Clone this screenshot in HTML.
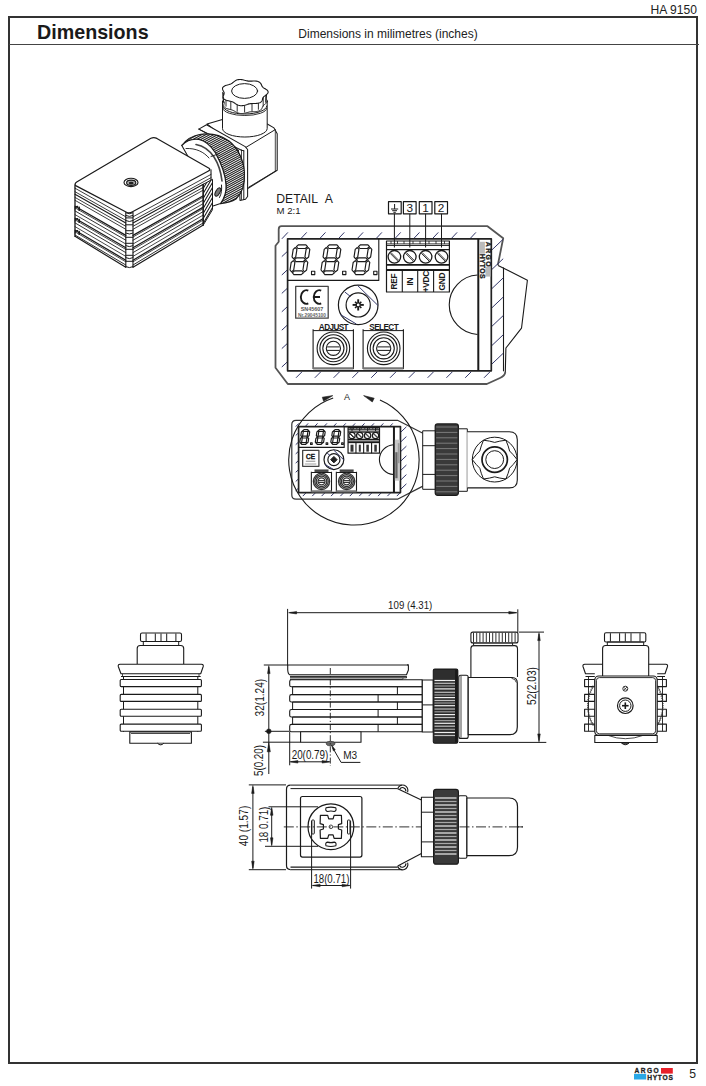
<!DOCTYPE html>
<html><head><meta charset="utf-8">
<style>
html,body{margin:0;padding:0;background:#fff;}
body{width:706px;height:1086px;position:relative;overflow:hidden;font-family:"Liberation Sans",sans-serif;color:#222;}
.abs{position:absolute;white-space:nowrap;}
svg text{font-family:"Liberation Sans",sans-serif;}
</style></head>
<body>
<div class="abs" style="left:650.5px;top:3.8px;font-size:12.1px;line-height:13px;">HA 9150</div>
<div style="position:absolute;left:8px;top:16px;width:686px;height:1044px;border:2px solid #333;"></div>
<div style="position:absolute;left:9px;top:44px;width:690px;height:1px;background:#444;"></div>
<div class="abs" style="left:37px;top:20.5px;font-size:19.7px;font-weight:bold;line-height:22px;color:#1a1a1a;">Dimensions</div>
<div class="abs" style="left:298.3px;top:26.7px;font-size:12px;line-height:14px;">Dimensions in milimetres (inches)</div>
<svg style="position:absolute;left:0;top:0" width="706" height="1086" viewBox="0 0 706 1086" fill="none" stroke="#222" stroke-width="1" stroke-linejoin="round">
<defs><pattern id="knurl" width="6" height="2.1" patternUnits="userSpaceOnUse" patternTransform="rotate(-28)"><rect width="6" height="2.1" fill="#fff"/><rect width="6" height="0.5" fill="#222"/></pattern></defs>
<g id="iso" stroke-linecap="round">
<path d="M207.0,124.0 L222.4,119.5 L266.4,123.5 L274.0,127.9 L277.2,133.7 L277.2,170.2 L247.3,188.7 L241.0,199.0 L239.5,150.0 Z" fill="#fff" stroke="#1a1a1a" stroke-width="1.05"/>
<line x1="246.2" y1="147.2" x2="275.3" y2="129.6" stroke="#1a1a1a" stroke-width="1.0"/>
<line x1="275.3" y1="131.5" x2="275.3" y2="171.2" stroke="#1a1a1a" stroke-width="0.8"/>
<line x1="249.0" y1="187.0" x2="275.3" y2="171.2" stroke="#1a1a1a" stroke-width="0.8"/>
<path d="M222.5,101 L222.5,128.5 A22.3,8.5 0 0 0 267.2,128.5 L267.2,101" fill="#fff" stroke="#1a1a1a" stroke-width="1"/>
<path d="M222.8,106 A22,8 0 0 0 266.8,106" fill="none" stroke="#1a1a1a" stroke-width="1"/>
<path d="M223,108.5 A21.8,7 0 0 0 266.6,108.5" fill="none" stroke="#1a1a1a" stroke-width="0.9"/>
<path d="M267.3,101.5 L267.1,102.0 L266.8,102.5 L266.4,103.0 L265.8,103.5 L265.3,104.0 L264.7,104.4 L264.2,104.8 L263.7,105.2 L263.3,105.6 L262.9,106.1 L262.7,106.5 L262.5,107.0 L262.3,107.5 L262.1,108.0 L261.8,108.6 L261.5,109.1 L261.1,109.6 L260.6,110.1 L260.0,110.5 L259.2,110.8 L258.4,111.1 L257.5,111.3 L256.5,111.5 L255.5,111.6 L254.5,111.7 L253.5,111.7 L252.5,111.7 L251.6,111.8 L250.7,111.8 L249.8,111.9 L249.0,112.1 L248.2,112.3 L247.3,112.5 L246.4,112.7 L245.5,113.0 L244.6,113.2 L243.6,113.4 L242.6,113.5 L241.6,113.5 L240.6,113.5 L239.7,113.4 L238.8,113.2 L237.9,112.9 L237.1,112.6 L236.3,112.2 L235.6,111.8 L235.0,111.4 L234.3,111.0 L233.7,110.7 L233.0,110.4 L232.3,110.1 L231.5,109.8 L230.7,109.6 L229.8,109.4 L228.9,109.2 L228.0,108.9 L227.1,108.7 L226.3,108.4 L225.5,108.0 L224.9,107.6 L224.4,107.1 L224.0,106.6 L223.8,106.1 L223.7,105.6 L223.8,105.0 L223.9,104.5 L224.0,103.9 L224.2,103.4 L224.3,102.9 L224.4,102.4 L224.4,102.0 L224.3,101.5 L224.2,101.0 L224.0,100.5 L223.7,100.0 L223.5,99.5 L223.3,99.0 L223.2,98.4 L223.2,97.9 L223.3,97.3 L223.5,96.8 L224.0,96.4 L224.5,95.9 L225.2,95.5 L226.0,95.2 L226.8,94.9 L227.7,94.6 L228.6,94.3 L229.4,94.1 L230.2,93.8 L230.9,93.5 L231.6,93.2 L232.2,92.9 L232.8,92.5 L233.4,92.1 L234.0,91.7 L234.6,91.2 L235.3,90.8 L236.1,90.5 L236.9,90.1 L237.8,89.9 L238.7,89.7 L239.7,89.6 L240.7,89.6 L241.7,89.7 L242.7,89.8 L243.7,90.0 L244.6,90.2 L245.5,90.4 L246.4,90.6 L247.2,90.7 L248.1,90.9 L249.0,90.9 L249.9,91.0 L250.8,91.0 L251.8,90.9 L252.8,90.9 L253.8,90.9 L254.8,91.0 L255.8,91.1 L256.8,91.3 L257.7,91.5 L258.5,91.8 L259.2,92.2 L259.7,92.7 L260.2,93.1 L260.6,93.6 L260.9,94.2 L261.2,94.7 L261.5,95.2 L261.8,95.6 L262.1,96.1 L262.5,96.5 L263.0,96.9 L263.5,97.3 L264.1,97.7 L264.8,98.1 L265.4,98.5 L266.0,99.0 L266.5,99.4 L267.0,99.9 L267.2,100.4 L267.4,101.0 L267.3,101.5 Z" fill="#fff" stroke="#1a1a1a" stroke-width="1"/>
<rect x="223" y="92.5" width="43.5" height="9" fill="#fff" stroke="none"/>
<line x1="222.7" y1="92.5" x2="223.5" y2="101.5" stroke="#1a1a1a" stroke-width="1"/>
<line x1="266.7" y1="92.5" x2="266.0" y2="101.5" stroke="#1a1a1a" stroke-width="1"/>
<line x1="223.4" y1="93.5" x2="223.4" y2="102.5" stroke="#1a1a1a" stroke-width="0.9"/>
<line x1="226.0" y1="97.2" x2="226.0" y2="106.2" stroke="#1a1a1a" stroke-width="0.9"/>
<line x1="230.8" y1="100.3" x2="230.8" y2="109.3" stroke="#1a1a1a" stroke-width="0.9"/>
<line x1="237.2" y1="102.3" x2="237.2" y2="111.3" stroke="#1a1a1a" stroke-width="0.9"/>
<line x1="244.6" y1="103.0" x2="244.6" y2="112.0" stroke="#1a1a1a" stroke-width="0.9"/>
<line x1="252.0" y1="102.3" x2="252.0" y2="111.3" stroke="#1a1a1a" stroke-width="0.9"/>
<line x1="258.4" y1="100.3" x2="258.4" y2="109.3" stroke="#1a1a1a" stroke-width="0.9"/>
<line x1="263.2" y1="97.2" x2="263.2" y2="106.2" stroke="#1a1a1a" stroke-width="0.9"/>
<line x1="265.8" y1="93.5" x2="265.8" y2="102.5" stroke="#1a1a1a" stroke-width="0.9"/>
<path d="M268.1,92.5 L267.8,93.1 L267.5,93.6 L266.9,94.2 L266.3,94.7 L265.7,95.2 L265.1,95.6 L264.5,96.1 L263.9,96.5 L263.5,97.0 L263.2,97.4 L262.9,97.9 L262.7,98.5 L262.6,99.0 L262.4,99.6 L262.3,100.2 L262.0,100.8 L261.6,101.4 L261.1,101.9 L260.5,102.4 L259.7,102.7 L258.8,103.0 L257.9,103.3 L256.8,103.4 L255.8,103.5 L254.7,103.5 L253.7,103.5 L252.6,103.5 L251.7,103.6 L250.8,103.6 L249.9,103.7 L249.0,103.9 L248.2,104.1 L247.4,104.4 L246.5,104.7 L245.6,105.0 L244.6,105.3 L243.6,105.5 L242.6,105.6 L241.5,105.7 L240.5,105.7 L239.5,105.5 L238.6,105.3 L237.7,105.0 L236.9,104.6 L236.1,104.1 L235.4,103.7 L234.8,103.2 L234.2,102.8 L233.5,102.4 L232.9,102.0 L232.1,101.7 L231.3,101.5 L230.5,101.3 L229.6,101.1 L228.6,100.8 L227.6,100.6 L226.6,100.3 L225.7,100.0 L224.9,99.6 L224.2,99.2 L223.7,98.7 L223.4,98.1 L223.2,97.5 L223.1,96.9 L223.2,96.3 L223.4,95.7 L223.6,95.1 L223.9,94.6 L224.0,94.0 L224.1,93.5 L224.2,93.0 L224.1,92.5 L223.9,92.0 L223.6,91.5 L223.3,90.9 L223.0,90.3 L222.7,89.7 L222.6,89.1 L222.5,88.5 L222.6,87.9 L222.9,87.4 L223.3,86.9 L223.9,86.4 L224.6,86.0 L225.5,85.6 L226.4,85.3 L227.4,85.0 L228.3,84.7 L229.2,84.5 L230.0,84.2 L230.8,83.9 L231.4,83.6 L232.1,83.2 L232.6,82.8 L233.2,82.3 L233.8,81.8 L234.4,81.3 L235.1,80.9 L235.8,80.4 L236.6,80.1 L237.5,79.8 L238.5,79.6 L239.5,79.5 L240.6,79.5 L241.6,79.6 L242.6,79.8 L243.6,80.0 L244.6,80.3 L245.5,80.5 L246.4,80.7 L247.3,80.9 L248.2,81.1 L249.0,81.1 L250.0,81.1 L250.9,81.1 L251.9,81.1 L253.0,81.0 L254.0,81.0 L255.1,81.0 L256.2,81.1 L257.2,81.3 L258.1,81.6 L258.9,81.9 L259.6,82.3 L260.2,82.8 L260.7,83.4 L261.0,83.9 L261.3,84.5 L261.5,85.1 L261.8,85.7 L262.0,86.2 L262.4,86.7 L262.8,87.1 L263.2,87.6 L263.8,88.0 L264.5,88.4 L265.2,88.8 L265.9,89.3 L266.6,89.7 L267.2,90.2 L267.7,90.8 L268.0,91.3 L268.1,91.9 L268.1,92.5 Z" fill="#fff" stroke="#1a1a1a" stroke-width="1.1"/>
<ellipse cx="244.6" cy="91" rx="13" ry="7.4" fill="#fff" stroke="#1a1a1a" stroke-width="1"/>
<path d="M198.8,129.1 L206.5,124.7 L245.2,146.6 L247.6,149.5 L247.6,196.5 L245.5,199.2 L240.0,200.5 L238.5,150.5 Z" fill="#fff" stroke="#1a1a1a" stroke-width="1.05"/>
<line x1="198.8" y1="129.1" x2="241.5" y2="150.2" stroke="#1a1a1a" stroke-width="1.05"/>
<line x1="241.5" y1="150.2" x2="243.8" y2="150.8" stroke="#1a1a1a" stroke-width="1.0"/>
<line x1="243.8" y1="150.8" x2="243.8" y2="199.6" stroke="#1a1a1a" stroke-width="1.0"/>
<line x1="241.5" y1="150.2" x2="241.5" y2="199.5" stroke="#1a1a1a" stroke-width="0.8"/>
<clipPath id="bclip"><path d="M181.8,145.5 C186,139.5 193,135.5 201,134.2 C210,133 220,134.5 229,141 C238,148 243.5,160 244.4,172 C245,182 243.5,192 236,199 C232,201.5 226,203 220.5,203.6 C224.5,198 226.5,192 226,185 C225.5,175 222,165 215.5,153 C211,146 206,141 199,139.5 C192,138.5 186,141 181.8,145.5 Z"/></clipPath>
<path d="M181.8,145.5 C186,139.5 193,135.5 201,134.2 C210,133 220,134.5 229,141 C238,148 243.5,160 244.4,172 C245,182 243.5,192 236,199 C232,201.5 226,203 220.5,203.6 C224.5,198 226.5,192 226,185 C225.5,175 222,165 215.5,153 C211,146 206,141 199,139.5 C192,138.5 186,141 181.8,145.5 Z" fill="#fff" stroke="none"/>
<g clip-path="url(#bclip)">
<line x1="123.07" y1="129.68" x2="228.63" y2="72.61" stroke="#222" stroke-width="1.1"/>
<line x1="123.98" y1="131.36" x2="229.54" y2="74.28" stroke="#222" stroke-width="1.1"/>
<line x1="124.88" y1="133.03" x2="230.44" y2="75.95" stroke="#222" stroke-width="1.1"/>
<line x1="125.78" y1="134.70" x2="231.34" y2="77.62" stroke="#222" stroke-width="1.1"/>
<line x1="126.69" y1="136.37" x2="232.25" y2="79.29" stroke="#222" stroke-width="1.1"/>
<line x1="127.59" y1="138.04" x2="233.15" y2="80.97" stroke="#222" stroke-width="1.1"/>
<line x1="128.50" y1="139.71" x2="234.05" y2="82.64" stroke="#222" stroke-width="1.1"/>
<line x1="129.40" y1="141.38" x2="234.96" y2="84.31" stroke="#222" stroke-width="1.1"/>
<line x1="130.30" y1="143.05" x2="235.86" y2="85.98" stroke="#222" stroke-width="1.1"/>
<line x1="131.21" y1="144.73" x2="236.76" y2="87.65" stroke="#222" stroke-width="1.1"/>
<line x1="132.11" y1="146.40" x2="237.67" y2="89.32" stroke="#222" stroke-width="1.1"/>
<line x1="133.01" y1="148.07" x2="238.57" y2="90.99" stroke="#222" stroke-width="1.1"/>
<line x1="133.92" y1="149.74" x2="239.48" y2="92.67" stroke="#222" stroke-width="1.1"/>
<line x1="134.82" y1="151.41" x2="240.38" y2="94.34" stroke="#222" stroke-width="1.1"/>
<line x1="135.73" y1="153.08" x2="241.28" y2="96.01" stroke="#222" stroke-width="1.1"/>
<line x1="136.63" y1="154.75" x2="242.19" y2="97.68" stroke="#222" stroke-width="1.1"/>
<line x1="137.53" y1="156.43" x2="243.09" y2="99.35" stroke="#222" stroke-width="1.1"/>
<line x1="138.44" y1="158.10" x2="243.99" y2="101.02" stroke="#222" stroke-width="1.1"/>
<line x1="139.34" y1="159.77" x2="244.90" y2="102.69" stroke="#222" stroke-width="1.1"/>
<line x1="140.24" y1="161.44" x2="245.80" y2="104.36" stroke="#222" stroke-width="1.1"/>
<line x1="141.15" y1="163.11" x2="246.71" y2="106.04" stroke="#222" stroke-width="1.1"/>
<line x1="142.05" y1="164.78" x2="247.61" y2="107.71" stroke="#222" stroke-width="1.1"/>
<line x1="142.95" y1="166.45" x2="248.51" y2="109.38" stroke="#222" stroke-width="1.1"/>
<line x1="143.86" y1="168.12" x2="249.42" y2="111.05" stroke="#222" stroke-width="1.1"/>
<line x1="144.76" y1="169.80" x2="250.32" y2="112.72" stroke="#222" stroke-width="1.1"/>
<line x1="145.67" y1="171.47" x2="251.22" y2="114.39" stroke="#222" stroke-width="1.1"/>
<line x1="146.57" y1="173.14" x2="252.13" y2="116.06" stroke="#222" stroke-width="1.1"/>
<line x1="147.47" y1="174.81" x2="253.03" y2="117.74" stroke="#222" stroke-width="1.1"/>
<line x1="148.38" y1="176.48" x2="253.93" y2="119.41" stroke="#222" stroke-width="1.1"/>
<line x1="149.28" y1="178.15" x2="254.84" y2="121.08" stroke="#222" stroke-width="1.1"/>
<line x1="150.18" y1="179.82" x2="255.74" y2="122.75" stroke="#222" stroke-width="1.1"/>
<line x1="151.09" y1="181.50" x2="256.65" y2="124.42" stroke="#222" stroke-width="1.1"/>
<line x1="151.99" y1="183.17" x2="257.55" y2="126.09" stroke="#222" stroke-width="1.1"/>
<line x1="152.90" y1="184.84" x2="258.45" y2="127.76" stroke="#222" stroke-width="1.1"/>
<line x1="153.80" y1="186.51" x2="259.36" y2="129.43" stroke="#222" stroke-width="1.1"/>
<line x1="154.70" y1="188.18" x2="260.26" y2="131.11" stroke="#222" stroke-width="1.1"/>
<line x1="155.61" y1="189.85" x2="261.16" y2="132.78" stroke="#222" stroke-width="1.1"/>
<line x1="156.51" y1="191.52" x2="262.07" y2="134.45" stroke="#222" stroke-width="1.1"/>
<line x1="157.41" y1="193.19" x2="262.97" y2="136.12" stroke="#222" stroke-width="1.1"/>
<line x1="158.32" y1="194.87" x2="263.88" y2="137.79" stroke="#222" stroke-width="1.1"/>
<line x1="159.22" y1="196.54" x2="264.78" y2="139.46" stroke="#222" stroke-width="1.1"/>
<line x1="160.12" y1="198.21" x2="265.68" y2="141.13" stroke="#222" stroke-width="1.1"/>
<line x1="161.03" y1="199.88" x2="266.59" y2="142.81" stroke="#222" stroke-width="1.1"/>
<line x1="161.93" y1="201.55" x2="267.49" y2="144.48" stroke="#222" stroke-width="1.1"/>
<line x1="162.84" y1="203.22" x2="268.39" y2="146.15" stroke="#222" stroke-width="1.1"/>
<line x1="163.74" y1="204.89" x2="269.30" y2="147.82" stroke="#222" stroke-width="1.1"/>
<line x1="164.64" y1="206.57" x2="270.20" y2="149.49" stroke="#222" stroke-width="1.1"/>
<line x1="165.55" y1="208.24" x2="271.10" y2="151.16" stroke="#222" stroke-width="1.1"/>
<line x1="166.45" y1="209.91" x2="272.01" y2="152.83" stroke="#222" stroke-width="1.1"/>
<line x1="167.35" y1="211.58" x2="272.91" y2="154.50" stroke="#222" stroke-width="1.1"/>
<line x1="168.26" y1="213.25" x2="273.82" y2="156.18" stroke="#222" stroke-width="1.1"/>
<line x1="169.16" y1="214.92" x2="274.72" y2="157.85" stroke="#222" stroke-width="1.1"/>
<line x1="170.07" y1="216.59" x2="275.62" y2="159.52" stroke="#222" stroke-width="1.1"/>
<line x1="170.97" y1="218.26" x2="276.53" y2="161.19" stroke="#222" stroke-width="1.1"/>
<line x1="171.87" y1="219.94" x2="277.43" y2="162.86" stroke="#222" stroke-width="1.1"/>
<line x1="172.78" y1="221.61" x2="278.33" y2="164.53" stroke="#222" stroke-width="1.1"/>
<line x1="173.68" y1="223.28" x2="279.24" y2="166.20" stroke="#222" stroke-width="1.1"/>
<line x1="174.58" y1="224.95" x2="280.14" y2="167.88" stroke="#222" stroke-width="1.1"/>
<line x1="175.49" y1="226.62" x2="281.05" y2="169.55" stroke="#222" stroke-width="1.1"/>
<line x1="176.39" y1="228.29" x2="281.95" y2="171.22" stroke="#222" stroke-width="1.1"/>
<line x1="177.29" y1="229.96" x2="282.85" y2="172.89" stroke="#222" stroke-width="1.1"/>
<line x1="178.20" y1="231.64" x2="283.76" y2="174.56" stroke="#222" stroke-width="1.1"/>
<line x1="179.10" y1="233.31" x2="284.66" y2="176.23" stroke="#222" stroke-width="1.1"/>
<line x1="180.01" y1="234.98" x2="285.56" y2="177.90" stroke="#222" stroke-width="1.1"/>
<line x1="180.91" y1="236.65" x2="286.47" y2="179.57" stroke="#222" stroke-width="1.1"/>
<line x1="181.81" y1="238.32" x2="287.37" y2="181.25" stroke="#222" stroke-width="1.1"/>
<line x1="182.72" y1="239.99" x2="288.27" y2="182.92" stroke="#222" stroke-width="1.1"/>
<line x1="183.62" y1="241.66" x2="289.18" y2="184.59" stroke="#222" stroke-width="1.1"/>
<line x1="184.52" y1="243.33" x2="290.08" y2="186.26" stroke="#222" stroke-width="1.1"/>
<line x1="185.43" y1="245.01" x2="290.99" y2="187.93" stroke="#222" stroke-width="1.1"/>
<line x1="186.33" y1="246.68" x2="291.89" y2="189.60" stroke="#222" stroke-width="1.1"/>
<line x1="187.24" y1="248.35" x2="292.79" y2="191.27" stroke="#222" stroke-width="1.1"/>
<line x1="188.14" y1="250.02" x2="293.70" y2="192.95" stroke="#222" stroke-width="1.1"/>
<line x1="189.04" y1="251.69" x2="294.60" y2="194.62" stroke="#222" stroke-width="1.1"/>
<line x1="189.95" y1="253.36" x2="295.50" y2="196.29" stroke="#222" stroke-width="1.1"/>
<line x1="190.85" y1="255.03" x2="296.41" y2="197.96" stroke="#222" stroke-width="1.1"/>
<line x1="191.75" y1="256.71" x2="297.31" y2="199.63" stroke="#222" stroke-width="1.1"/>
<line x1="192.66" y1="258.38" x2="298.22" y2="201.30" stroke="#222" stroke-width="1.1"/>
<line x1="193.56" y1="260.05" x2="299.12" y2="202.97" stroke="#222" stroke-width="1.1"/>
<line x1="194.46" y1="261.72" x2="300.02" y2="204.64" stroke="#222" stroke-width="1.1"/>
</g>
<path d="M181.8,145.5 C186,139.5 193,135.5 201,134.2 C210,133 220,134.5 229,141 C238,148 243.5,160 244.4,172 C245,182 243.5,192 236,199 C232,201.5 226,203 220.5,203.6 C224.5,198 226.5,192 226,185 C225.5,175 222,165 215.5,153 C211,146 206,141 199,139.5 C192,138.5 186,141 181.8,145.5 Z" fill="none" stroke="#1a1a1a" stroke-width="1.15"/>
<path d="M181.8,145.5 C186,141 192,138.5 199,139.5 C206,141 211,146 215.5,153 C222,165 225.5,175 226,185 C226.5,192 224.5,198 220.5,203.6 L213,206 L200,206 L190,160 Z" fill="#fff" stroke="#1a1a1a" stroke-width="1.1"/>
<path d="M196,144.5 C204,146 210,151 214,157 C218.5,164 221,172 222,181" stroke="#444" stroke-width="1.6"/>
<path d="M186,148.5 C196,148 204,152 209,158" stroke="#1a1a1a" stroke-width="0.9"/>
<path d="M221.5,185 C222,189 221.5,194 219.5,197.5" stroke="#1a1a1a" stroke-width="1"/>
<path d="M211,156.5 L219.5,153.5" stroke="#1a1a1a" stroke-width="0.9"/>
<ellipse cx="217.8" cy="192" rx="2.1" ry="4.6" fill="#777" stroke="#1a1a1a" stroke-width="1" transform="rotate(28 217.8 192)"/>
<path d="M74.2,183.6 L129.5,213.7 L211.0,169.7 L211.0,179.7 L203.3,183.9 L203.3,226.5 L129.5,266.3 L74.2,236.2 Z" fill="#fff" stroke="none"/>
<line x1="75.0" y1="236.3" x2="125.8" y2="267.3" stroke="#1a1a1a" stroke-width="1.2"/>
<line x1="133.0" y1="267.3" x2="203.3" y2="225.0" stroke="#1a1a1a" stroke-width="1.2"/>
<line x1="211.0" y1="169.7" x2="211.0" y2="179.7" stroke="#1a1a1a" stroke-width="1.1"/>
<line x1="211.0" y1="179.7" x2="203.3" y2="187.9" stroke="#1a1a1a" stroke-width="1.0"/>
<path d="M203.3,184.3 L212.5,179.3 L212.5,209.7 L203.3,225.0 Z" fill="#fff" stroke="#1a1a1a" stroke-width="1"/>
<clipPath id="hclip"><path d="M203.3,184.3 L212.5,179.3 L212.5,209.7 L203.3,225.0 Z"/></clipPath><g clip-path="url(#hclip)">
<line x1="203.3" y1="183.3" x2="212.5" y2="167.5" stroke="#1a1a1a" stroke-width="1.05"/>
<line x1="203.3" y1="188.3" x2="212.5" y2="172.5" stroke="#1a1a1a" stroke-width="1.05"/>
<line x1="203.3" y1="193.3" x2="212.5" y2="177.5" stroke="#1a1a1a" stroke-width="1.05"/>
<line x1="203.3" y1="198.3" x2="212.5" y2="182.5" stroke="#1a1a1a" stroke-width="1.05"/>
<line x1="203.3" y1="203.3" x2="212.5" y2="187.5" stroke="#1a1a1a" stroke-width="1.05"/>
<line x1="203.3" y1="208.3" x2="212.5" y2="192.5" stroke="#1a1a1a" stroke-width="1.05"/>
<line x1="203.3" y1="213.3" x2="212.5" y2="197.5" stroke="#1a1a1a" stroke-width="1.05"/>
<line x1="203.3" y1="218.3" x2="212.5" y2="202.5" stroke="#1a1a1a" stroke-width="1.05"/>
<line x1="203.3" y1="223.3" x2="212.5" y2="207.5" stroke="#1a1a1a" stroke-width="1.05"/>
</g>
<line x1="203.3" y1="184.3" x2="203.3" y2="225.0" stroke="#1a1a1a" stroke-width="1.3"/>
<line x1="75.0" y1="188.2" x2="125.8" y2="216.8" stroke="#1a1a1a" stroke-width="0.85"/>
<line x1="133.0" y1="216.8" x2="211.0" y2="174.4" stroke="#1a1a1a" stroke-width="0.85"/>
<line x1="75.0" y1="191.7" x2="125.8" y2="220.4" stroke="#1a1a1a" stroke-width="0.85"/>
<line x1="133.0" y1="220.4" x2="211.0" y2="177.7" stroke="#1a1a1a" stroke-width="0.85"/>
<line x1="75.0" y1="194.2" x2="125.8" y2="223.0" stroke="#1a1a1a" stroke-width="1.1"/>
<line x1="133.0" y1="223.0" x2="203.3" y2="184.3" stroke="#1a1a1a" stroke-width="1.1"/>
<line x1="75.0" y1="197.4" x2="125.8" y2="226.3" stroke="#1a1a1a" stroke-width="0.85"/>
<line x1="133.0" y1="226.3" x2="203.3" y2="187.3" stroke="#1a1a1a" stroke-width="0.85"/>
<line x1="75.0" y1="200.3" x2="125.8" y2="229.3" stroke="#1a1a1a" stroke-width="0.85"/>
<line x1="133.0" y1="229.3" x2="203.3" y2="190.1" stroke="#1a1a1a" stroke-width="0.85"/>
<line x1="75.0" y1="206.2" x2="125.8" y2="235.4" stroke="#1a1a1a" stroke-width="1.3"/>
<line x1="133.0" y1="235.4" x2="203.3" y2="195.7" stroke="#1a1a1a" stroke-width="1.3"/>
<line x1="75.0" y1="207.8" x2="125.8" y2="237.0" stroke="#1a1a1a" stroke-width="0.8"/>
<line x1="133.0" y1="237.0" x2="203.3" y2="197.1" stroke="#1a1a1a" stroke-width="0.8"/>
<line x1="75.0" y1="210.9" x2="125.8" y2="240.2" stroke="#1a1a1a" stroke-width="0.9"/>
<line x1="133.0" y1="240.2" x2="203.3" y2="200.1" stroke="#1a1a1a" stroke-width="0.9"/>
<line x1="75.0" y1="214.6" x2="125.8" y2="244.0" stroke="#1a1a1a" stroke-width="0.8"/>
<line x1="133.0" y1="244.0" x2="203.3" y2="203.6" stroke="#1a1a1a" stroke-width="0.8"/>
<line x1="75.0" y1="218.3" x2="125.8" y2="247.8" stroke="#1a1a1a" stroke-width="1.3"/>
<line x1="133.0" y1="247.8" x2="203.3" y2="207.1" stroke="#1a1a1a" stroke-width="1.3"/>
<line x1="75.0" y1="219.8" x2="125.8" y2="249.4" stroke="#1a1a1a" stroke-width="0.8"/>
<line x1="133.0" y1="249.4" x2="203.3" y2="208.6" stroke="#1a1a1a" stroke-width="0.8"/>
<line x1="75.0" y1="222.9" x2="125.8" y2="252.6" stroke="#1a1a1a" stroke-width="0.9"/>
<line x1="133.0" y1="252.6" x2="203.3" y2="211.5" stroke="#1a1a1a" stroke-width="0.9"/>
<line x1="75.0" y1="226.6" x2="125.8" y2="256.4" stroke="#1a1a1a" stroke-width="0.8"/>
<line x1="133.0" y1="256.4" x2="203.3" y2="215.0" stroke="#1a1a1a" stroke-width="0.8"/>
<line x1="75.0" y1="230.3" x2="125.8" y2="260.2" stroke="#1a1a1a" stroke-width="1.3"/>
<line x1="133.0" y1="260.2" x2="203.3" y2="218.5" stroke="#1a1a1a" stroke-width="1.3"/>
<line x1="75.0" y1="231.8" x2="125.8" y2="261.8" stroke="#1a1a1a" stroke-width="0.8"/>
<line x1="133.0" y1="261.8" x2="203.3" y2="220.0" stroke="#1a1a1a" stroke-width="0.8"/>
<line x1="75.0" y1="235.0" x2="125.8" y2="265.0" stroke="#1a1a1a" stroke-width="0.9"/>
<line x1="133.0" y1="265.0" x2="203.3" y2="222.9" stroke="#1a1a1a" stroke-width="0.9"/>
<line x1="125.8" y1="212.9" x2="125.8" y2="266.9" stroke="#1a1a1a" stroke-width="1.1"/>
<line x1="133.0" y1="212.9" x2="133.0" y2="266.9" stroke="#1a1a1a" stroke-width="1.1"/>
<path d="M125.8,212.8 Q129.4,214.8 133,212.8" stroke="#1a1a1a" stroke-width="1.0"/>
<path d="M125.8,215.5 Q129.4,217.5 133,215.5" stroke="#1a1a1a" stroke-width="1.0"/>
<path d="M125.8,220.6 Q129.4,222.6 133,220.6" stroke="#1a1a1a" stroke-width="1.0"/>
<path d="M125.8,233.1 Q129.4,235.1 133,233.1" stroke="#1a1a1a" stroke-width="1.0"/>
<path d="M125.8,245.7 Q129.4,247.7 133,245.7" stroke="#1a1a1a" stroke-width="1.0"/>
<path d="M125.8,257.7 Q129.4,259.7 133,257.7" stroke="#1a1a1a" stroke-width="1.0"/>
<path d="M125.8,266.7 Q129.4,268.7 133,266.7" stroke="#1a1a1a" stroke-width="1.0"/>
<line x1="125.8" y1="217.9" x2="133.0" y2="217.9" stroke="#1a1a1a" stroke-width="1.0"/>
<line x1="125.8" y1="224.8" x2="133.0" y2="224.8" stroke="#1a1a1a" stroke-width="1.0"/>
<line x1="125.8" y1="230.7" x2="133.0" y2="230.7" stroke="#1a1a1a" stroke-width="1.0"/>
<line x1="125.8" y1="237.3" x2="133.0" y2="237.3" stroke="#1a1a1a" stroke-width="1.0"/>
<line x1="125.8" y1="243.3" x2="133.0" y2="243.3" stroke="#1a1a1a" stroke-width="1.0"/>
<line x1="125.8" y1="249.3" x2="133.0" y2="249.3" stroke="#1a1a1a" stroke-width="1.0"/>
<line x1="125.8" y1="255.3" x2="133.0" y2="255.3" stroke="#1a1a1a" stroke-width="1.0"/>
<line x1="125.8" y1="261.3" x2="133.0" y2="261.3" stroke="#1a1a1a" stroke-width="1.0"/>
<line x1="75.0" y1="184.9" x2="75.0" y2="236.3" stroke="#1a1a1a" stroke-width="1.3"/>
<path d="M75.0,209.2 Q75.0,206.2 77.7,206.4" stroke="#1a1a1a" stroke-width="1.1"/>
<line x1="79.2" y1="207.4" x2="79.2" y2="210.2" stroke="#1a1a1a" stroke-width="1.6"/>
<path d="M75.0,221.3 Q75.0,218.3 77.7,218.5" stroke="#1a1a1a" stroke-width="1.1"/>
<line x1="79.2" y1="219.5" x2="79.2" y2="222.3" stroke="#1a1a1a" stroke-width="1.6"/>
<path d="M75.0,233.3 Q75.0,230.3 77.7,230.5" stroke="#1a1a1a" stroke-width="1.1"/>
<line x1="79.2" y1="231.5" x2="79.2" y2="234.3" stroke="#1a1a1a" stroke-width="1.6"/>
<path d="M132.5,211.7 L208.0,171.3 Q211.0,169.7 209.0,168.2 L156.9,138.4 Q153.9,137.0 150.9,138.2 L76.7,182.1 Q74.2,183.6 75.7,185.6 L126.5,212.2 Q129.5,213.7 132.5,211.7 Z" fill="#fff" stroke="#1a1a1a" stroke-width="1.2"/>
<ellipse cx="131" cy="182.4" rx="7" ry="4.2" fill="#fff" stroke="#1a1a1a" stroke-width="1.1"/>
<ellipse cx="131.2" cy="182.8" rx="4.6" ry="2.7" fill="#aaa" stroke="#1a1a1a" stroke-width="1.1"/>
<ellipse cx="131.2" cy="183.2" rx="2.4" ry="1.4" fill="#222" stroke="none"/>
</g>
<g id="detail">
<text x="0" y="0" font-size="12.20" font-weight="normal" fill="#1a1a1a" stroke="none" text-anchor="start" transform="translate(276.20,202.90) rotate(0)" >DETAIL&#160;&#160;A</text>
<text x="0" y="0" font-size="9.60" font-weight="normal" fill="#1a1a1a" stroke="none" text-anchor="start" transform="translate(276.60,213.90) rotate(0)" >M 2:1</text>
<path d="M281.5,226.2 L487.5,226.2 L503.2,238.3 L497.8,265.2 M505.3,371.9 Q505,376 500,378 L486.8,384 L287.8,384 L275.5,367.8 L275.5,245.7 L278.7,241.8 L278.7,229.5 Q278.7,226.2 281.5,226.2" stroke="#555" stroke-width="1.8" fill="none"/>
<path d="M498.1,265.4 L527.4,280.3 L521.5,328.2 L505.9,348 L505.3,371.9" stroke="#1a1a1a" stroke-width="1.1" fill="none"/>
<line x1="503.50" y1="267.50" x2="503.50" y2="371.30" stroke="#1a1a1a" stroke-width="1.10"/>
<line x1="281.90" y1="238.80" x2="287.90" y2="232.40" stroke="#34386a" stroke-width="1.00"/>
<line x1="300.70" y1="238.80" x2="306.70" y2="232.40" stroke="#34386a" stroke-width="1.00"/>
<line x1="319.50" y1="238.80" x2="325.50" y2="232.40" stroke="#34386a" stroke-width="1.00"/>
<line x1="338.30" y1="238.80" x2="344.30" y2="232.40" stroke="#34386a" stroke-width="1.00"/>
<line x1="357.10" y1="238.80" x2="363.10" y2="232.40" stroke="#34386a" stroke-width="1.00"/>
<line x1="375.90" y1="238.80" x2="381.90" y2="232.40" stroke="#34386a" stroke-width="1.00"/>
<line x1="394.70" y1="238.80" x2="400.70" y2="232.40" stroke="#34386a" stroke-width="1.00"/>
<line x1="413.50" y1="238.80" x2="419.50" y2="232.40" stroke="#34386a" stroke-width="1.00"/>
<line x1="432.30" y1="238.80" x2="438.30" y2="232.40" stroke="#34386a" stroke-width="1.00"/>
<line x1="451.10" y1="238.80" x2="457.10" y2="232.40" stroke="#34386a" stroke-width="1.00"/>
<line x1="469.90" y1="238.80" x2="475.90" y2="232.40" stroke="#34386a" stroke-width="1.00"/>
<line x1="281.80" y1="256.60" x2="287.20" y2="251.60" stroke="#34386a" stroke-width="1.00"/>
<line x1="281.80" y1="275.00" x2="287.20" y2="270.00" stroke="#34386a" stroke-width="1.00"/>
<line x1="281.80" y1="293.40" x2="287.20" y2="288.40" stroke="#34386a" stroke-width="1.00"/>
<line x1="281.80" y1="311.80" x2="287.20" y2="306.80" stroke="#34386a" stroke-width="1.00"/>
<line x1="281.80" y1="330.20" x2="287.20" y2="325.20" stroke="#34386a" stroke-width="1.00"/>
<line x1="281.80" y1="348.60" x2="287.20" y2="343.60" stroke="#34386a" stroke-width="1.00"/>
<line x1="281.80" y1="367.00" x2="287.20" y2="362.00" stroke="#34386a" stroke-width="1.00"/>
<line x1="296.00" y1="377.80" x2="302.00" y2="371.80" stroke="#34386a" stroke-width="1.00"/>
<line x1="314.80" y1="377.80" x2="320.80" y2="371.80" stroke="#34386a" stroke-width="1.00"/>
<line x1="333.60" y1="377.80" x2="339.60" y2="371.80" stroke="#34386a" stroke-width="1.00"/>
<line x1="352.40" y1="377.80" x2="358.40" y2="371.80" stroke="#34386a" stroke-width="1.00"/>
<line x1="371.20" y1="377.80" x2="377.20" y2="371.80" stroke="#34386a" stroke-width="1.00"/>
<line x1="390.00" y1="377.80" x2="396.00" y2="371.80" stroke="#34386a" stroke-width="1.00"/>
<line x1="408.80" y1="377.80" x2="414.80" y2="371.80" stroke="#34386a" stroke-width="1.00"/>
<line x1="427.60" y1="377.80" x2="433.60" y2="371.80" stroke="#34386a" stroke-width="1.00"/>
<line x1="446.40" y1="377.80" x2="452.40" y2="371.80" stroke="#34386a" stroke-width="1.00"/>
<line x1="465.20" y1="377.80" x2="471.20" y2="371.80" stroke="#34386a" stroke-width="1.00"/>
<line x1="484.00" y1="377.80" x2="490.00" y2="371.80" stroke="#34386a" stroke-width="1.00"/>
<line x1="491.80" y1="250.00" x2="503.20" y2="239.20" stroke="#34386a" stroke-width="1.00"/>
<line x1="491.80" y1="269.50" x2="503.20" y2="258.70" stroke="#34386a" stroke-width="1.00"/>
<line x1="491.80" y1="288.70" x2="503.20" y2="277.90" stroke="#34386a" stroke-width="1.00"/>
<line x1="491.80" y1="307.90" x2="503.20" y2="297.10" stroke="#34386a" stroke-width="1.00"/>
<line x1="491.80" y1="326.40" x2="503.20" y2="315.60" stroke="#34386a" stroke-width="1.00"/>
<line x1="491.80" y1="345.60" x2="503.20" y2="334.80" stroke="#34386a" stroke-width="1.00"/>
<line x1="491.80" y1="364.10" x2="503.20" y2="353.30" stroke="#34386a" stroke-width="1.00"/>
<path d="M287.60,370.80 L287.60,238.80 L491.30,238.80 L491.30,370.80 Z" stroke="#222" stroke-width="1.70" fill="none"/>
<path d="M287.60,280.40 L378.80,280.40 L378.80,238.80" stroke="#1a1a1a" stroke-width="1.10" fill="none"/>
<path d="M296.38,246.65 L298.52,244.80 L305.92,244.80 L307.48,246.65 L305.35,248.50 L297.95,248.50 Z" stroke="#1a1a1a" stroke-width="1.15" fill="none"/>
<path d="M294.36,259.70 L296.50,257.85 L303.90,257.85 L305.46,259.70 L303.32,261.55 L295.92,261.55 Z" stroke="#1a1a1a" stroke-width="1.15" fill="none"/>
<path d="M292.34,272.75 L294.47,270.90 L301.87,270.90 L303.44,272.75 L301.30,274.60 L293.90,274.60 Z" stroke="#1a1a1a" stroke-width="1.15" fill="none"/>
<path d="M295.34,247.55 L296.91,249.40 L295.74,256.95 L293.60,258.80 L292.04,256.95 L293.21,249.40 Z" stroke="#1a1a1a" stroke-width="1.15" fill="none"/>
<path d="M293.32,260.60 L294.88,262.45 L293.71,270.00 L291.58,271.85 L290.01,270.00 L291.18,262.45 Z" stroke="#1a1a1a" stroke-width="1.15" fill="none"/>
<path d="M308.24,247.55 L309.81,249.40 L308.64,256.95 L306.50,258.80 L304.94,256.95 L306.11,249.40 Z" stroke="#1a1a1a" stroke-width="1.15" fill="none"/>
<path d="M306.22,260.60 L307.78,262.45 L306.61,270.00 L304.48,271.85 L302.91,270.00 L304.08,262.45 Z" stroke="#1a1a1a" stroke-width="1.15" fill="none"/>
<rect x="311.50" y="271.30" width="3.30" height="3.30" stroke="#1a1a1a" stroke-width="1.10" fill="none"/>
<path d="M327.38,246.65 L329.52,244.80 L336.92,244.80 L338.48,246.65 L336.35,248.50 L328.95,248.50 Z" stroke="#1a1a1a" stroke-width="1.15" fill="none"/>
<path d="M325.36,259.70 L327.50,257.85 L334.90,257.85 L336.46,259.70 L334.32,261.55 L326.92,261.55 Z" stroke="#1a1a1a" stroke-width="1.15" fill="none"/>
<path d="M323.34,272.75 L325.47,270.90 L332.87,270.90 L334.44,272.75 L332.30,274.60 L324.90,274.60 Z" stroke="#1a1a1a" stroke-width="1.15" fill="none"/>
<path d="M326.34,247.55 L327.91,249.40 L326.74,256.95 L324.60,258.80 L323.04,256.95 L324.21,249.40 Z" stroke="#1a1a1a" stroke-width="1.15" fill="none"/>
<path d="M324.32,260.60 L325.88,262.45 L324.71,270.00 L322.58,271.85 L321.01,270.00 L322.18,262.45 Z" stroke="#1a1a1a" stroke-width="1.15" fill="none"/>
<path d="M339.24,247.55 L340.81,249.40 L339.64,256.95 L337.50,258.80 L335.94,256.95 L337.11,249.40 Z" stroke="#1a1a1a" stroke-width="1.15" fill="none"/>
<path d="M337.22,260.60 L338.78,262.45 L337.61,270.00 L335.48,271.85 L333.91,270.00 L335.08,262.45 Z" stroke="#1a1a1a" stroke-width="1.15" fill="none"/>
<rect x="342.60" y="271.30" width="3.30" height="3.30" stroke="#1a1a1a" stroke-width="1.10" fill="none"/>
<path d="M358.38,246.65 L360.52,244.80 L367.92,244.80 L369.48,246.65 L367.35,248.50 L359.95,248.50 Z" stroke="#1a1a1a" stroke-width="1.15" fill="none"/>
<path d="M356.36,259.70 L358.50,257.85 L365.90,257.85 L367.46,259.70 L365.32,261.55 L357.92,261.55 Z" stroke="#1a1a1a" stroke-width="1.15" fill="none"/>
<path d="M354.34,272.75 L356.47,270.90 L363.87,270.90 L365.44,272.75 L363.30,274.60 L355.90,274.60 Z" stroke="#1a1a1a" stroke-width="1.15" fill="none"/>
<path d="M357.34,247.55 L358.91,249.40 L357.74,256.95 L355.60,258.80 L354.04,256.95 L355.21,249.40 Z" stroke="#1a1a1a" stroke-width="1.15" fill="none"/>
<path d="M355.32,260.60 L356.88,262.45 L355.71,270.00 L353.58,271.85 L352.01,270.00 L353.18,262.45 Z" stroke="#1a1a1a" stroke-width="1.15" fill="none"/>
<path d="M370.24,247.55 L371.81,249.40 L370.64,256.95 L368.50,258.80 L366.94,256.95 L368.11,249.40 Z" stroke="#1a1a1a" stroke-width="1.15" fill="none"/>
<path d="M368.22,260.60 L369.78,262.45 L368.61,270.00 L366.48,271.85 L364.91,270.00 L366.08,262.45 Z" stroke="#1a1a1a" stroke-width="1.15" fill="none"/>
<rect x="373.70" y="271.30" width="3.30" height="3.30" stroke="#1a1a1a" stroke-width="1.10" fill="none"/>
<rect x="386.50" y="241.00" width="62.90" height="51.00" stroke="#1a1a1a" stroke-width="1.20" fill="none"/>
<line x1="386.50" y1="243.90" x2="449.40" y2="243.90" stroke="#1a1a1a" stroke-width="0.90"/>
<line x1="386.50" y1="245.50" x2="449.40" y2="245.50" stroke="#1a1a1a" stroke-width="0.90"/>
<line x1="391.00" y1="241.00" x2="391.00" y2="243.90" stroke="#1a1a1a" stroke-width="0.80"/>
<line x1="397.50" y1="241.00" x2="397.50" y2="243.90" stroke="#1a1a1a" stroke-width="0.80"/>
<line x1="404.00" y1="241.00" x2="404.00" y2="243.90" stroke="#1a1a1a" stroke-width="0.80"/>
<line x1="413.00" y1="241.00" x2="413.00" y2="243.90" stroke="#1a1a1a" stroke-width="0.80"/>
<line x1="420.00" y1="241.00" x2="420.00" y2="243.90" stroke="#1a1a1a" stroke-width="0.80"/>
<line x1="429.00" y1="241.00" x2="429.00" y2="243.90" stroke="#1a1a1a" stroke-width="0.80"/>
<line x1="436.00" y1="241.00" x2="436.00" y2="243.90" stroke="#1a1a1a" stroke-width="0.80"/>
<line x1="444.50" y1="241.00" x2="444.50" y2="243.90" stroke="#1a1a1a" stroke-width="0.80"/>
<line x1="386.50" y1="249.60" x2="449.40" y2="249.60" stroke="#1a1a1a" stroke-width="1.40"/>
<line x1="386.50" y1="264.80" x2="449.40" y2="264.80" stroke="#1a1a1a" stroke-width="1.70"/>
<line x1="386.50" y1="270.00" x2="449.40" y2="270.00" stroke="#1a1a1a" stroke-width="1.90"/>
<line x1="402.30" y1="270.50" x2="402.30" y2="292.00" stroke="#1a1a1a" stroke-width="1.10"/>
<line x1="417.70" y1="270.50" x2="417.70" y2="292.00" stroke="#1a1a1a" stroke-width="1.10"/>
<line x1="433.60" y1="270.50" x2="433.60" y2="292.00" stroke="#1a1a1a" stroke-width="1.10"/>
<circle cx="394.40" cy="256.80" r="6.30" stroke="#1a1a1a" stroke-width="1.30" fill="none"/>
<line x1="390.10" y1="253.30" x2="397.90" y2="261.10" stroke="#1a1a1a" stroke-width="0.90"/>
<line x1="390.90" y1="252.50" x2="398.70" y2="260.30" stroke="#1a1a1a" stroke-width="0.90"/>
<line x1="394.40" y1="241.00" x2="394.40" y2="247.50" stroke="#1a1a1a" stroke-width="1.00"/>
<circle cx="409.80" cy="256.80" r="6.30" stroke="#1a1a1a" stroke-width="1.30" fill="none"/>
<line x1="405.50" y1="253.30" x2="413.30" y2="261.10" stroke="#1a1a1a" stroke-width="0.90"/>
<line x1="406.30" y1="252.50" x2="414.10" y2="260.30" stroke="#1a1a1a" stroke-width="0.90"/>
<line x1="409.80" y1="241.00" x2="409.80" y2="247.50" stroke="#1a1a1a" stroke-width="1.00"/>
<circle cx="425.60" cy="256.80" r="6.30" stroke="#1a1a1a" stroke-width="1.30" fill="none"/>
<line x1="421.30" y1="253.30" x2="429.10" y2="261.10" stroke="#1a1a1a" stroke-width="0.90"/>
<line x1="422.10" y1="252.50" x2="429.90" y2="260.30" stroke="#1a1a1a" stroke-width="0.90"/>
<line x1="425.60" y1="241.00" x2="425.60" y2="247.50" stroke="#1a1a1a" stroke-width="1.00"/>
<circle cx="441.50" cy="256.80" r="6.30" stroke="#1a1a1a" stroke-width="1.30" fill="none"/>
<line x1="437.20" y1="253.30" x2="445.00" y2="261.10" stroke="#1a1a1a" stroke-width="0.90"/>
<line x1="438.00" y1="252.50" x2="445.80" y2="260.30" stroke="#1a1a1a" stroke-width="0.90"/>
<line x1="441.50" y1="241.00" x2="441.50" y2="247.50" stroke="#1a1a1a" stroke-width="1.00"/>
<text x="0" y="0" font-size="8.40" font-weight="bold" fill="#1a1a1a" stroke="none" text-anchor="middle" transform="translate(397.40,281.60) rotate(-90)" letter-spacing="-0.3">REF</text>
<text x="0" y="0" font-size="8.40" font-weight="bold" fill="#1a1a1a" stroke="none" text-anchor="middle" transform="translate(413.00,281.60) rotate(-90)" letter-spacing="-0.3">IN</text>
<text x="0" y="0" font-size="8.40" font-weight="bold" fill="#1a1a1a" stroke="none" text-anchor="middle" transform="translate(428.60,281.60) rotate(-90)" letter-spacing="-0.3">+VDC</text>
<text x="0" y="0" font-size="8.40" font-weight="bold" fill="#1a1a1a" stroke="none" text-anchor="middle" transform="translate(444.50,281.60) rotate(-90)" letter-spacing="-0.3">GND</text>
<line x1="478.30" y1="238.80" x2="478.30" y2="370.80" stroke="#1a1a1a" stroke-width="2.00"/>
<rect x="479.90" y="241.80" width="5.00" height="11.90" stroke="none" fill="#bbb"/>
<rect x="485.40" y="266.60" width="5.00" height="10.00" stroke="none" fill="#bbb"/>
<text x="0" y="0" font-size="6.90" font-weight="bold" fill="#1a1a1a"  text-anchor="start" transform="translate(485.80,241.80) rotate(90)" letter-spacing="1.4" stroke="#1a1a1a" stroke-width="0.3">ARGO</text>
<text x="0" y="0" font-size="6.90" font-weight="bold" fill="#1a1a1a"  text-anchor="start" transform="translate(479.90,253.70) rotate(90)" letter-spacing="0.3" stroke="#1a1a1a" stroke-width="0.3">HYTOS</text>
<path d="M477.50,275.00 A30.00,29.80 0 0 0 477.50,334.50" stroke="#1a1a1a" stroke-width="1.10" fill="none"/>
<rect x="295.70" y="286.40" width="32.50" height="31.80" stroke="#444" stroke-width="1.30" fill="none"/>
<path d="M308.3,290.6 A5.6,6.8 0 1 0 308.3,303.4" stroke="#1a1a1a" stroke-width="1.9" fill="none"/>
<path d="M321.2,290.6 A5.6,6.8 0 1 0 321.2,303.4 M314,297 L320,297" stroke="#1a1a1a" stroke-width="1.9" fill="none"/>
<text x="0" y="0" font-size="6.20" font-weight="bold" fill="#555" stroke="none" text-anchor="middle" transform="translate(312.00,310.70) rotate(0)" textLength="22.5" lengthAdjust="spacingAndGlyphs">SN45607</text>
<text x="0" y="0" font-size="5.40" font-weight="bold" fill="#666" stroke="none" text-anchor="middle" transform="translate(312.00,316.70) rotate(0)" textLength="28" lengthAdjust="spacingAndGlyphs">Nr.29045100</text>
<circle cx="358.20" cy="304.90" r="19.80" stroke="#1a1a1a" stroke-width="1.20" fill="none"/>
<circle cx="358.20" cy="304.90" r="12.10" stroke="#1a1a1a" stroke-width="1.20" fill="none"/>
<line x1="344.80" y1="292.00" x2="350.60" y2="296.60" stroke="#34386a" stroke-width="1.00"/>
<line x1="357.60" y1="285.50" x2="378.00" y2="305.50" stroke="#34386a" stroke-width="1.00"/>
<line x1="340.40" y1="314.50" x2="356.30" y2="324.00" stroke="#34386a" stroke-width="1.00"/>
<line x1="360.10" y1="304.90" x2="363.80" y2="304.90" stroke="#1a1a1a" stroke-width="1.90"/>
<line x1="359.54" y1="306.24" x2="361.31" y2="308.01" stroke="#1a1a1a" stroke-width="1.60"/>
<line x1="358.20" y1="306.80" x2="358.20" y2="310.50" stroke="#1a1a1a" stroke-width="1.90"/>
<line x1="356.86" y1="306.24" x2="355.09" y2="308.01" stroke="#1a1a1a" stroke-width="1.60"/>
<line x1="356.30" y1="304.90" x2="352.60" y2="304.90" stroke="#1a1a1a" stroke-width="1.90"/>
<line x1="356.86" y1="303.56" x2="355.09" y2="301.79" stroke="#1a1a1a" stroke-width="1.60"/>
<line x1="358.20" y1="303.00" x2="358.20" y2="299.30" stroke="#1a1a1a" stroke-width="1.90"/>
<line x1="359.54" y1="303.56" x2="361.31" y2="301.79" stroke="#1a1a1a" stroke-width="1.60"/>
<circle cx="358.20" cy="304.90" r="1.90" stroke="#1a1a1a" stroke-width="1.10" fill="none"/>
<path d="M313.10,368.90 L313.10,329.20" stroke="#1a1a1a" stroke-width="1.10" fill="none"/>
<path d="M353.40,368.90 L353.40,329.20" stroke="#1a1a1a" stroke-width="1.10" fill="none"/>
<path d="M313.10,330.60 L353.40,330.60" stroke="#1a1a1a" stroke-width="1.00" fill="none"/>
<line x1="313.10" y1="368.30" x2="353.40" y2="368.30" stroke="#777" stroke-width="2.20"/>
<text x="0" y="0" font-size="8.20" font-weight="bold" fill="#1a1a1a" stroke="none" text-anchor="middle" transform="translate(333.40,329.70) rotate(0)" letter-spacing="-0.6">ADJUST</text>
<circle cx="333.40" cy="348.30" r="16.30" stroke="#1a1a1a" stroke-width="1.10" fill="none"/>
<circle cx="333.40" cy="348.30" r="13.50" stroke="#1a1a1a" stroke-width="1.10" fill="none"/>
<circle cx="333.40" cy="348.30" r="10.60" stroke="#1a1a1a" stroke-width="1.10" fill="none"/>
<circle cx="333.40" cy="348.30" r="7.10" stroke="#1a1a1a" stroke-width="1.10" fill="none"/>
<line x1="327.10" y1="346.90" x2="339.70" y2="346.90" stroke="#1a1a1a" stroke-width="1.00"/>
<line x1="327.10" y1="350.40" x2="339.70" y2="350.40" stroke="#1a1a1a" stroke-width="1.00"/>
<path d="M363.10,368.90 L363.10,329.20" stroke="#1a1a1a" stroke-width="1.10" fill="none"/>
<path d="M403.40,368.90 L403.40,329.20" stroke="#1a1a1a" stroke-width="1.10" fill="none"/>
<path d="M363.10,330.60 L403.40,330.60" stroke="#1a1a1a" stroke-width="1.00" fill="none"/>
<line x1="363.10" y1="368.30" x2="403.40" y2="368.30" stroke="#777" stroke-width="2.20"/>
<text x="0" y="0" font-size="8.20" font-weight="bold" fill="#1a1a1a" stroke="none" text-anchor="middle" transform="translate(383.70,329.70) rotate(0)" letter-spacing="-0.6">SELECT</text>
<circle cx="383.70" cy="348.30" r="16.30" stroke="#1a1a1a" stroke-width="1.10" fill="none"/>
<circle cx="383.70" cy="348.30" r="13.50" stroke="#1a1a1a" stroke-width="1.10" fill="none"/>
<circle cx="383.70" cy="348.30" r="10.60" stroke="#1a1a1a" stroke-width="1.10" fill="none"/>
<circle cx="383.70" cy="348.30" r="7.10" stroke="#1a1a1a" stroke-width="1.10" fill="none"/>
<line x1="377.40" y1="346.90" x2="390.00" y2="346.90" stroke="#1a1a1a" stroke-width="1.00"/>
<line x1="377.40" y1="350.40" x2="390.00" y2="350.40" stroke="#1a1a1a" stroke-width="1.00"/>
<rect x="388.50" y="201.70" width="12.70" height="12.10" stroke="#1a1a1a" stroke-width="1.20" fill="none"/>
<rect x="403.40" y="201.70" width="12.70" height="12.10" stroke="#1a1a1a" stroke-width="1.20" fill="none"/>
<text x="0" y="0" font-size="11.80" font-weight="normal" fill="#1a1a1a" stroke="none" text-anchor="middle" transform="translate(409.75,212.30) rotate(0)" >3</text>
<rect x="419.30" y="201.70" width="12.70" height="12.10" stroke="#1a1a1a" stroke-width="1.20" fill="none"/>
<text x="0" y="0" font-size="11.80" font-weight="normal" fill="#1a1a1a" stroke="none" text-anchor="middle" transform="translate(425.65,212.30) rotate(0)" >1</text>
<rect x="434.80" y="201.70" width="12.70" height="12.10" stroke="#1a1a1a" stroke-width="1.20" fill="none"/>
<text x="0" y="0" font-size="11.80" font-weight="normal" fill="#1a1a1a" stroke="none" text-anchor="middle" transform="translate(441.15,212.30) rotate(0)" >2</text>
<line x1="394.40" y1="213.80" x2="394.40" y2="241.00" stroke="#1a1a1a" stroke-width="1.00"/>
<line x1="409.80" y1="213.80" x2="409.80" y2="241.00" stroke="#1a1a1a" stroke-width="1.00"/>
<line x1="425.60" y1="213.80" x2="425.60" y2="241.00" stroke="#1a1a1a" stroke-width="1.00"/>
<line x1="441.50" y1="213.80" x2="441.50" y2="241.00" stroke="#1a1a1a" stroke-width="1.00"/>
<line x1="394.60" y1="204.00" x2="394.60" y2="209.00" stroke="#1a1a1a" stroke-width="1.00"/>
<line x1="391.00" y1="209.00" x2="398.20" y2="209.00" stroke="#1a1a1a" stroke-width="1.00"/>
<line x1="392.20" y1="210.70" x2="397.00" y2="210.70" stroke="#1a1a1a" stroke-width="1.00"/>
<line x1="393.40" y1="212.30" x2="395.80" y2="212.30" stroke="#1a1a1a" stroke-width="1.00"/>
</g>
<g id="small">
<path d="M422.9,433.2 L397.5,420.3 L296,420.3 Q291.8,420.3 291.8,424.5 L291.8,495 Q291.8,499.2 296,499.2 L397.5,499.2 L422.9,486.1" stroke="#333" stroke-width="1.2" fill="none"/>
<line x1="295.75" y1="426.60" x2="298.75" y2="423.40" stroke="#34386a" stroke-width="1.00"/>
<line x1="305.15" y1="426.60" x2="308.15" y2="423.40" stroke="#34386a" stroke-width="1.00"/>
<line x1="314.55" y1="426.60" x2="317.55" y2="423.40" stroke="#34386a" stroke-width="1.00"/>
<line x1="323.95" y1="426.60" x2="326.95" y2="423.40" stroke="#34386a" stroke-width="1.00"/>
<line x1="333.35" y1="426.60" x2="336.35" y2="423.40" stroke="#34386a" stroke-width="1.00"/>
<line x1="342.75" y1="426.60" x2="345.75" y2="423.40" stroke="#34386a" stroke-width="1.00"/>
<line x1="352.15" y1="426.60" x2="355.15" y2="423.40" stroke="#34386a" stroke-width="1.00"/>
<line x1="361.55" y1="426.60" x2="364.55" y2="423.40" stroke="#34386a" stroke-width="1.00"/>
<line x1="370.95" y1="426.60" x2="373.95" y2="423.40" stroke="#34386a" stroke-width="1.00"/>
<line x1="380.35" y1="426.60" x2="383.35" y2="423.40" stroke="#34386a" stroke-width="1.00"/>
<line x1="389.75" y1="426.60" x2="392.75" y2="423.40" stroke="#34386a" stroke-width="1.00"/>
<line x1="295.70" y1="435.50" x2="298.40" y2="433.00" stroke="#34386a" stroke-width="1.00"/>
<line x1="295.70" y1="444.70" x2="298.40" y2="442.20" stroke="#34386a" stroke-width="1.00"/>
<line x1="295.70" y1="453.90" x2="298.40" y2="451.40" stroke="#34386a" stroke-width="1.00"/>
<line x1="295.70" y1="463.10" x2="298.40" y2="460.60" stroke="#34386a" stroke-width="1.00"/>
<line x1="295.70" y1="472.30" x2="298.40" y2="469.80" stroke="#34386a" stroke-width="1.00"/>
<line x1="295.70" y1="481.50" x2="298.40" y2="479.00" stroke="#34386a" stroke-width="1.00"/>
<line x1="295.70" y1="490.70" x2="298.40" y2="488.20" stroke="#34386a" stroke-width="1.00"/>
<line x1="302.80" y1="496.10" x2="305.80" y2="493.10" stroke="#34386a" stroke-width="1.00"/>
<line x1="312.20" y1="496.10" x2="315.20" y2="493.10" stroke="#34386a" stroke-width="1.00"/>
<line x1="321.60" y1="496.10" x2="324.60" y2="493.10" stroke="#34386a" stroke-width="1.00"/>
<line x1="331.00" y1="496.10" x2="334.00" y2="493.10" stroke="#34386a" stroke-width="1.00"/>
<line x1="340.40" y1="496.10" x2="343.40" y2="493.10" stroke="#34386a" stroke-width="1.00"/>
<line x1="349.80" y1="496.10" x2="352.80" y2="493.10" stroke="#34386a" stroke-width="1.00"/>
<line x1="359.20" y1="496.10" x2="362.20" y2="493.10" stroke="#34386a" stroke-width="1.00"/>
<line x1="368.60" y1="496.10" x2="371.60" y2="493.10" stroke="#34386a" stroke-width="1.00"/>
<line x1="378.00" y1="496.10" x2="381.00" y2="493.10" stroke="#34386a" stroke-width="1.00"/>
<line x1="387.40" y1="496.10" x2="390.40" y2="493.10" stroke="#34386a" stroke-width="1.00"/>
<line x1="396.80" y1="496.10" x2="399.80" y2="493.10" stroke="#34386a" stroke-width="1.00"/>
<line x1="400.70" y1="432.20" x2="406.40" y2="426.80" stroke="#34386a" stroke-width="1.00"/>
<line x1="400.70" y1="441.95" x2="406.40" y2="436.55" stroke="#34386a" stroke-width="1.00"/>
<line x1="400.70" y1="451.55" x2="406.40" y2="446.15" stroke="#34386a" stroke-width="1.00"/>
<line x1="400.70" y1="461.15" x2="406.40" y2="455.75" stroke="#34386a" stroke-width="1.00"/>
<line x1="400.70" y1="470.40" x2="406.40" y2="465.00" stroke="#34386a" stroke-width="1.00"/>
<line x1="400.70" y1="480.00" x2="406.40" y2="474.60" stroke="#34386a" stroke-width="1.00"/>
<line x1="400.70" y1="489.25" x2="406.40" y2="483.85" stroke="#34386a" stroke-width="1.00"/>
<path d="M298.60,492.60 L298.60,426.60 L400.45,426.60 L400.45,492.60 Z" stroke="#222" stroke-width="1.70" fill="none"/>
<path d="M298.60,447.40 L344.20,447.40 L344.20,426.60" stroke="#1a1a1a" stroke-width="1.10" fill="none"/>
<path d="M302.99,430.52 L304.06,429.60 L307.76,429.60 L308.54,430.52 L307.47,431.45 L303.77,431.45 Z" stroke="#1a1a1a" stroke-width="1.15" fill="none"/>
<path d="M301.98,437.05 L303.05,436.12 L306.75,436.12 L307.53,437.05 L306.46,437.98 L302.76,437.98 Z" stroke="#1a1a1a" stroke-width="1.15" fill="none"/>
<path d="M300.97,443.57 L302.04,442.65 L305.74,442.65 L306.52,443.57 L305.45,444.50 L301.75,444.50 Z" stroke="#1a1a1a" stroke-width="1.15" fill="none"/>
<path d="M302.47,430.98 L303.25,431.90 L302.67,435.67 L301.60,436.60 L300.82,435.67 L301.40,431.90 Z" stroke="#1a1a1a" stroke-width="1.15" fill="none"/>
<path d="M301.46,437.50 L302.24,438.42 L301.66,442.20 L300.59,443.12 L299.81,442.20 L300.39,438.42 Z" stroke="#1a1a1a" stroke-width="1.15" fill="none"/>
<path d="M308.92,430.98 L309.70,431.90 L309.12,435.67 L308.05,436.60 L307.27,435.67 L307.85,431.90 Z" stroke="#1a1a1a" stroke-width="1.15" fill="none"/>
<path d="M307.91,437.50 L308.69,438.42 L308.11,442.20 L307.04,443.12 L306.26,442.20 L306.84,438.42 Z" stroke="#1a1a1a" stroke-width="1.15" fill="none"/>
<rect x="310.55" y="442.85" width="1.65" height="1.65" stroke="#1a1a1a" stroke-width="1.10" fill="none"/>
<path d="M318.49,430.52 L319.56,429.60 L323.26,429.60 L324.04,430.52 L322.97,431.45 L319.27,431.45 Z" stroke="#1a1a1a" stroke-width="1.15" fill="none"/>
<path d="M317.48,437.05 L318.55,436.12 L322.25,436.12 L323.03,437.05 L321.96,437.98 L318.26,437.98 Z" stroke="#1a1a1a" stroke-width="1.15" fill="none"/>
<path d="M316.47,443.57 L317.54,442.65 L321.24,442.65 L322.02,443.57 L320.95,444.50 L317.25,444.50 Z" stroke="#1a1a1a" stroke-width="1.15" fill="none"/>
<path d="M317.97,430.98 L318.75,431.90 L318.17,435.67 L317.10,436.60 L316.32,435.67 L316.90,431.90 Z" stroke="#1a1a1a" stroke-width="1.15" fill="none"/>
<path d="M316.96,437.50 L317.74,438.42 L317.16,442.20 L316.09,443.12 L315.31,442.20 L315.89,438.42 Z" stroke="#1a1a1a" stroke-width="1.15" fill="none"/>
<path d="M324.42,430.98 L325.20,431.90 L324.62,435.67 L323.55,436.60 L322.77,435.67 L323.35,431.90 Z" stroke="#1a1a1a" stroke-width="1.15" fill="none"/>
<path d="M323.41,437.50 L324.19,438.42 L323.61,442.20 L322.54,443.12 L321.76,442.20 L322.34,438.42 Z" stroke="#1a1a1a" stroke-width="1.15" fill="none"/>
<rect x="326.10" y="442.85" width="1.65" height="1.65" stroke="#1a1a1a" stroke-width="1.10" fill="none"/>
<path d="M333.99,430.52 L335.06,429.60 L338.76,429.60 L339.54,430.52 L338.47,431.45 L334.77,431.45 Z" stroke="#1a1a1a" stroke-width="1.15" fill="none"/>
<path d="M332.98,437.05 L334.05,436.12 L337.75,436.12 L338.53,437.05 L337.46,437.98 L333.76,437.98 Z" stroke="#1a1a1a" stroke-width="1.15" fill="none"/>
<path d="M331.97,443.57 L333.04,442.65 L336.74,442.65 L337.52,443.57 L336.45,444.50 L332.75,444.50 Z" stroke="#1a1a1a" stroke-width="1.15" fill="none"/>
<path d="M333.47,430.98 L334.25,431.90 L333.67,435.67 L332.60,436.60 L331.82,435.67 L332.40,431.90 Z" stroke="#1a1a1a" stroke-width="1.15" fill="none"/>
<path d="M332.46,437.50 L333.24,438.42 L332.66,442.20 L331.59,443.12 L330.81,442.20 L331.39,438.42 Z" stroke="#1a1a1a" stroke-width="1.15" fill="none"/>
<path d="M339.92,430.98 L340.70,431.90 L340.12,435.67 L339.05,436.60 L338.27,435.67 L338.85,431.90 Z" stroke="#1a1a1a" stroke-width="1.15" fill="none"/>
<path d="M338.91,437.50 L339.69,438.42 L339.11,442.20 L338.04,443.12 L337.26,442.20 L337.84,438.42 Z" stroke="#1a1a1a" stroke-width="1.15" fill="none"/>
<rect x="341.65" y="442.85" width="1.65" height="1.65" stroke="#1a1a1a" stroke-width="1.10" fill="none"/>
<rect x="348.05" y="427.70" width="31.45" height="25.50" stroke="#1a1a1a" stroke-width="1.20" fill="none"/>
<line x1="348.05" y1="429.15" x2="379.50" y2="429.15" stroke="#1a1a1a" stroke-width="0.90"/>
<line x1="348.05" y1="429.95" x2="379.50" y2="429.95" stroke="#1a1a1a" stroke-width="0.90"/>
<line x1="350.30" y1="427.70" x2="350.30" y2="429.15" stroke="#1a1a1a" stroke-width="0.80"/>
<line x1="353.55" y1="427.70" x2="353.55" y2="429.15" stroke="#1a1a1a" stroke-width="0.80"/>
<line x1="356.80" y1="427.70" x2="356.80" y2="429.15" stroke="#1a1a1a" stroke-width="0.80"/>
<line x1="361.30" y1="427.70" x2="361.30" y2="429.15" stroke="#1a1a1a" stroke-width="0.80"/>
<line x1="364.80" y1="427.70" x2="364.80" y2="429.15" stroke="#1a1a1a" stroke-width="0.80"/>
<line x1="369.30" y1="427.70" x2="369.30" y2="429.15" stroke="#1a1a1a" stroke-width="0.80"/>
<line x1="372.80" y1="427.70" x2="372.80" y2="429.15" stroke="#1a1a1a" stroke-width="0.80"/>
<line x1="377.05" y1="427.70" x2="377.05" y2="429.15" stroke="#1a1a1a" stroke-width="0.80"/>
<line x1="348.05" y1="432.00" x2="379.50" y2="432.00" stroke="#1a1a1a" stroke-width="1.40"/>
<line x1="348.05" y1="439.60" x2="379.50" y2="439.60" stroke="#1a1a1a" stroke-width="1.70"/>
<line x1="348.05" y1="442.20" x2="379.50" y2="442.20" stroke="#1a1a1a" stroke-width="1.90"/>
<line x1="355.95" y1="442.45" x2="355.95" y2="453.20" stroke="#1a1a1a" stroke-width="1.10"/>
<line x1="363.65" y1="442.45" x2="363.65" y2="453.20" stroke="#1a1a1a" stroke-width="1.10"/>
<line x1="371.60" y1="442.45" x2="371.60" y2="453.20" stroke="#1a1a1a" stroke-width="1.10"/>
<circle cx="352.00" cy="435.60" r="3.15" stroke="#1a1a1a" stroke-width="1.30" fill="none"/>
<line x1="349.85" y1="433.85" x2="353.75" y2="437.75" stroke="#1a1a1a" stroke-width="0.90"/>
<line x1="350.25" y1="433.45" x2="354.15" y2="437.35" stroke="#1a1a1a" stroke-width="0.90"/>
<line x1="352.00" y1="427.70" x2="352.00" y2="430.95" stroke="#1a1a1a" stroke-width="1.00"/>
<circle cx="359.70" cy="435.60" r="3.15" stroke="#1a1a1a" stroke-width="1.30" fill="none"/>
<line x1="357.55" y1="433.85" x2="361.45" y2="437.75" stroke="#1a1a1a" stroke-width="0.90"/>
<line x1="357.95" y1="433.45" x2="361.85" y2="437.35" stroke="#1a1a1a" stroke-width="0.90"/>
<line x1="359.70" y1="427.70" x2="359.70" y2="430.95" stroke="#1a1a1a" stroke-width="1.00"/>
<circle cx="367.60" cy="435.60" r="3.15" stroke="#1a1a1a" stroke-width="1.30" fill="none"/>
<line x1="365.45" y1="433.85" x2="369.35" y2="437.75" stroke="#1a1a1a" stroke-width="0.90"/>
<line x1="365.85" y1="433.45" x2="369.75" y2="437.35" stroke="#1a1a1a" stroke-width="0.90"/>
<line x1="367.60" y1="427.70" x2="367.60" y2="430.95" stroke="#1a1a1a" stroke-width="1.00"/>
<circle cx="375.55" cy="435.60" r="3.15" stroke="#1a1a1a" stroke-width="1.30" fill="none"/>
<line x1="373.40" y1="433.85" x2="377.30" y2="437.75" stroke="#1a1a1a" stroke-width="0.90"/>
<line x1="373.80" y1="433.45" x2="377.70" y2="437.35" stroke="#1a1a1a" stroke-width="0.90"/>
<line x1="375.55" y1="427.70" x2="375.55" y2="430.95" stroke="#1a1a1a" stroke-width="1.00"/>
<rect x="350.50" y="444.70" width="3.00" height="7.00" stroke="none" fill="#333"/>
<rect x="358.80" y="444.70" width="2.00" height="7.00" stroke="none" fill="#333"/>
<rect x="366.35" y="444.70" width="2.50" height="7.00" stroke="none" fill="#333"/>
<rect x="374.30" y="444.70" width="2.50" height="7.00" stroke="none" fill="#333"/>
<line x1="393.95" y1="426.60" x2="393.95" y2="492.60" stroke="#1a1a1a" stroke-width="2.00"/>
<rect x="394.80" y="439.70" width="5.00" height="41.00" stroke="none" fill="#c8c8c8"/>
<rect x="395.30" y="452.20" width="2.25" height="26.00" stroke="none" fill="#666"/>
<rect x="397.80" y="443.20" width="1.75" height="20.00" stroke="none" fill="#999"/>
<path d="M393.55,444.70 A15.00,14.90 0 0 0 393.55,474.45" stroke="#1a1a1a" stroke-width="1.10" fill="none"/>
<rect x="302.65" y="450.40" width="16.25" height="15.90" stroke="#444" stroke-width="1.30" fill="none"/>
<text x="0" y="0" font-size="6.50" font-weight="normal" fill="#1a1a1a"  text-anchor="middle" transform="translate(310.55,459.20) rotate(0)" stroke="#1a1a1a" stroke-width="0.5">CE</text>
<rect x="305.80" y="460.70" width="9.50" height="1.10" stroke="none" fill="#999"/>
<rect x="304.80" y="463.45" width="11.50" height="1.10" stroke="none" fill="#aaa"/>
<circle cx="333.90" cy="459.65" r="9.90" stroke="#1a1a1a" stroke-width="1.20" fill="none"/>
<circle cx="333.90" cy="459.65" r="6.05" stroke="#1a1a1a" stroke-width="1.20" fill="none"/>
<line x1="327.20" y1="453.20" x2="330.10" y2="455.50" stroke="#34386a" stroke-width="1.00"/>
<line x1="333.60" y1="449.95" x2="343.80" y2="459.95" stroke="#34386a" stroke-width="1.00"/>
<line x1="325.00" y1="464.45" x2="332.95" y2="469.20" stroke="#34386a" stroke-width="1.00"/>
<path d="M333.90,456.45 L337.10,459.65 L333.90,462.85 L330.70,459.65 Z" stroke="#1a1a1a" stroke-width="1.00" fill="#222"/>
<path d="M311.35,491.65 L311.35,471.80" stroke="#1a1a1a" stroke-width="1.10" fill="none"/>
<path d="M331.50,491.65 L331.50,471.80" stroke="#1a1a1a" stroke-width="1.10" fill="none"/>
<path d="M311.35,472.50 L331.50,472.50" stroke="#1a1a1a" stroke-width="1.00" fill="none"/>
<line x1="311.35" y1="491.35" x2="331.50" y2="491.35" stroke="#777" stroke-width="2.20"/>
<rect x="314.50" y="469.45" width="14.00" height="2.50" stroke="none" fill="#444"/>
<circle cx="321.50" cy="481.35" r="8.15" stroke="#333" stroke-width="1.30" fill="none"/>
<circle cx="321.50" cy="481.35" r="6.75" stroke="#333" stroke-width="1.30" fill="none"/>
<circle cx="321.50" cy="481.35" r="5.30" stroke="#333" stroke-width="1.30" fill="none"/>
<circle cx="321.50" cy="481.35" r="3.55" stroke="#333" stroke-width="1.30" fill="none"/>
<line x1="318.35" y1="480.65" x2="324.65" y2="480.65" stroke="#1a1a1a" stroke-width="1.00"/>
<line x1="318.35" y1="482.40" x2="324.65" y2="482.40" stroke="#1a1a1a" stroke-width="1.00"/>
<path d="M336.35,491.65 L336.35,471.80" stroke="#1a1a1a" stroke-width="1.10" fill="none"/>
<path d="M356.50,491.65 L356.50,471.80" stroke="#1a1a1a" stroke-width="1.10" fill="none"/>
<path d="M336.35,472.50 L356.50,472.50" stroke="#1a1a1a" stroke-width="1.00" fill="none"/>
<line x1="336.35" y1="491.35" x2="356.50" y2="491.35" stroke="#777" stroke-width="2.20"/>
<rect x="339.65" y="469.45" width="14.00" height="2.50" stroke="none" fill="#444"/>
<circle cx="346.65" cy="481.35" r="8.15" stroke="#333" stroke-width="1.30" fill="none"/>
<circle cx="346.65" cy="481.35" r="6.75" stroke="#333" stroke-width="1.30" fill="none"/>
<circle cx="346.65" cy="481.35" r="5.30" stroke="#333" stroke-width="1.30" fill="none"/>
<circle cx="346.65" cy="481.35" r="3.55" stroke="#333" stroke-width="1.30" fill="none"/>
<line x1="343.50" y1="480.65" x2="349.80" y2="480.65" stroke="#1a1a1a" stroke-width="1.00"/>
<line x1="343.50" y1="482.40" x2="349.80" y2="482.40" stroke="#1a1a1a" stroke-width="1.00"/>
</g>
<g id="small2">
<path d="M379.96,400.03 A65.2,65.2 0 1 1 333.16,397.99" stroke="#1a1a1a" stroke-width="1.1" fill="none"/>
<path d="M332.8,395.6 L322.3,397.2 L323.6,401.2 Z" fill="#222" stroke="#222" stroke-width="0.6"/>
<path d="M363.6,395.6 L374.2,398.2 L372.3,402 Z" fill="#222" stroke="#222" stroke-width="0.6"/>
<text x="347" y="399.8" font-size="9" fill="#222" text-anchor="middle" stroke="none">A</text>
<rect x="422.7" y="430.8" width="12.9" height="58.5" stroke="#1a1a1a" stroke-width="1" fill="#fff"/>
<line x1="422.7" y1="445.7" x2="435.6" y2="445.7" stroke="#1a1a1a" stroke-width="1"/>
<line x1="422.7" y1="474.4" x2="435.6" y2="474.4" stroke="#1a1a1a" stroke-width="1"/>
<rect x="435.2" y="423.9" width="23.2" height="71.4" rx="2.5" stroke="#1a1a1a" stroke-width="1.2" fill="#3a3a3a"/>
<line x1="436.2" y1="427.0" x2="457.4" y2="427.0" stroke="#9a9a9a" stroke-width="0.7"/>
<line x1="436.2" y1="432.4" x2="457.4" y2="432.4" stroke="#9a9a9a" stroke-width="0.7"/>
<line x1="436.2" y1="437.8" x2="457.4" y2="437.8" stroke="#9a9a9a" stroke-width="0.7"/>
<line x1="436.2" y1="443.2" x2="457.4" y2="443.2" stroke="#9a9a9a" stroke-width="0.7"/>
<line x1="436.2" y1="448.6" x2="457.4" y2="448.6" stroke="#9a9a9a" stroke-width="0.7"/>
<line x1="436.2" y1="454.0" x2="457.4" y2="454.0" stroke="#9a9a9a" stroke-width="0.7"/>
<line x1="436.2" y1="459.4" x2="457.4" y2="459.4" stroke="#9a9a9a" stroke-width="0.7"/>
<line x1="436.2" y1="464.8" x2="457.4" y2="464.8" stroke="#9a9a9a" stroke-width="0.7"/>
<line x1="436.2" y1="470.2" x2="457.4" y2="470.2" stroke="#9a9a9a" stroke-width="0.7"/>
<line x1="436.2" y1="475.6" x2="457.4" y2="475.6" stroke="#9a9a9a" stroke-width="0.7"/>
<line x1="436.2" y1="481.0" x2="457.4" y2="481.0" stroke="#9a9a9a" stroke-width="0.7"/>
<line x1="436.2" y1="486.4" x2="457.4" y2="486.4" stroke="#9a9a9a" stroke-width="0.7"/>
<line x1="436.2" y1="491.8" x2="457.4" y2="491.8" stroke="#9a9a9a" stroke-width="0.7"/>
<rect x="458.4" y="428.8" width="8.9" height="62.5" stroke="#1a1a1a" stroke-width="1" fill="#fff"/>
<path d="M467.3,431.8 L509.3,431.8 Q517.3,431.8 517.3,439.8 L517.3,479.9 Q517.3,487.9 509.3,487.9 L467.3,487.9" stroke="#1a1a1a" stroke-width="1.1" fill="#fff"/>
<circle cx="494.7" cy="459.6" r="22.4" stroke="#1a1a1a" stroke-width="1" fill="#fff"/>
<path d="M517.10,459.60 Q513.16,464.89 509.60,468.20 Q508.51,472.94 505.90,479.00 Q499.34,478.23 494.70,476.80 Q490.06,478.23 483.50,479.00 Q480.89,472.94 479.80,468.20 Q476.24,464.89 472.30,459.60 Q476.24,454.31 479.80,451.00 Q480.89,446.26 483.50,440.20 Q490.06,440.97 494.70,442.40 Q499.34,440.97 505.90,440.20 Q508.51,446.26 509.60,451.00 Q513.16,454.31 517.10,459.60 Z" stroke="#1a1a1a" stroke-width="1" fill="none"/>
<circle cx="494.7" cy="459.6" r="12.7" stroke="#1a1a1a" stroke-width="1.7" fill="none"/>
<circle cx="494.7" cy="459.6" r="8.9" stroke="#1a1a1a" stroke-width="1" fill="none"/>
</g>
<g id="views">
<rect x="140.50" y="633.00" width="41.00" height="8.50" rx="1.5" stroke="#1a1a1a" stroke-width="1.1" fill="none"/>
<line x1="146.10" y1="633.50" x2="146.10" y2="641.00" stroke="#1a1a1a" stroke-width="1" />
<line x1="155.30" y1="633.50" x2="155.30" y2="641.00" stroke="#1a1a1a" stroke-width="1" />
<line x1="161.00" y1="633.50" x2="161.00" y2="641.00" stroke="#1a1a1a" stroke-width="1" />
<line x1="166.70" y1="633.50" x2="166.70" y2="641.00" stroke="#1a1a1a" stroke-width="1" />
<line x1="175.90" y1="633.50" x2="175.90" y2="641.00" stroke="#1a1a1a" stroke-width="1" />
<rect x="143.30" y="641.50" width="35.40" height="4.00" rx="0" stroke="#1a1a1a" stroke-width="1" fill="none"/>
<path d="M137.2,664 L137.2,648.5 Q137.2,645.5 140.2,645.5 L180.7,645.5 Q183.7,645.5 183.7,648.5 L183.7,664" stroke="#1a1a1a" stroke-width="1.1" fill="none" />
<path d="M120,664.2 L201.5,664.2 Q203.7,664.5 203.2,666.5 L200.7,673.8 L121,673.8 L118.3,666.5 Q117.8,664.5 120,664.2 Z" stroke="#1a1a1a" stroke-width="1.1" fill="#fff" />
<line x1="121.00" y1="676.50" x2="200.70" y2="676.50" stroke="#1a1a1a" stroke-width="1" />
<line x1="122.50" y1="673.80" x2="122.50" y2="676.50" stroke="#1a1a1a" stroke-width="0.8" />
<line x1="199.00" y1="673.80" x2="199.00" y2="676.50" stroke="#1a1a1a" stroke-width="0.8" />
<line x1="123.50" y1="676.50" x2="123.50" y2="732.00" stroke="#1a1a1a" stroke-width="1" />
<line x1="197.80" y1="676.50" x2="197.80" y2="732.00" stroke="#1a1a1a" stroke-width="1" />
<rect x="120.20" y="679.50" width="81.20" height="7.10" rx="1" stroke="#1a1a1a" stroke-width="1.1" fill="#fff"/>
<rect x="120.20" y="694.40" width="81.20" height="7.00" rx="1" stroke="#1a1a1a" stroke-width="1.1" fill="#fff"/>
<rect x="120.20" y="709.20" width="81.20" height="7.10" rx="1" stroke="#1a1a1a" stroke-width="1.1" fill="#fff"/>
<rect x="120.20" y="724.10" width="81.20" height="7.10" rx="1" stroke="#1a1a1a" stroke-width="1.1" fill="#fff"/>
<rect x="129.80" y="731.90" width="61.60" height="11.30" rx="0" stroke="#1a1a1a" stroke-width="1.1" fill="#fff"/>
<line x1="131.00" y1="733.50" x2="190.00" y2="733.50" stroke="#1a1a1a" stroke-width="0.8" />
<path d="M157.5,743.2 Q160.6,746.5 163.8,743.2" stroke="#1a1a1a" stroke-width="1" fill="#888" />
<line x1="287.60" y1="608.90" x2="287.60" y2="665.40" stroke="#1a1a1a" stroke-width="1" />
<line x1="517.80" y1="609.30" x2="517.80" y2="632.50" stroke="#1a1a1a" stroke-width="1" />
<line x1="289.60" y1="612.70" x2="516.50" y2="612.70" stroke="#1a1a1a" stroke-width="1" />
<path d="M288.60,612.70 L296.60,611.40 L296.60,614.00 Z" stroke="#1a1a1a" stroke-width="0.5" fill="#1a1a1a" />
<path d="M516.80,612.70 L508.80,614.00 L508.80,611.40 Z" stroke="#1a1a1a" stroke-width="0.5" fill="#1a1a1a" />
<text x="0" y="0" font-size="11.2" fill="#1a1a1a" stroke="none" text-anchor="middle" transform="translate(410.20,609.30) rotate(0)" textLength="44.2" lengthAdjust="spacingAndGlyphs">109 (4.31)</text>
<line x1="263.80" y1="665.00" x2="409.00" y2="665.00" stroke="#1a1a1a" stroke-width="1" />
<path d="M287.7,665 L287.7,669.8 Q288,674 289.7,674.8 L406.5,674.8 L408.4,670 L408.4,665.8 Q408.2,664.8 407,664.8" stroke="#1a1a1a" stroke-width="1.1" fill="none" />
<path d="M290,676.4 L406.5,676.4 L406.5,677.8 L290,677.8" stroke="#1a1a1a" stroke-width="1.0" fill="none" />
<path d="M290,679.4 L402.5,679.4 Q403.5,679 402.8,678.2" stroke="#1a1a1a" stroke-width="1.0" fill="none" />
<path d="M422.3,679.7 L291.5,679.7 Q289.7,679.7 289.7,681.5 L289.7,685.2 Q289.7,686.7 291.5,686.7 L422.3,686.7" stroke="#1a1a1a" stroke-width="1.1" fill="#fff" />
<path d="M422.3,694.6 L291.5,694.6 Q289.7,694.6 289.7,696.4 L289.7,700.5 Q289.7,702 291.5,702 L422.3,702" stroke="#1a1a1a" stroke-width="1.1" fill="#fff" />
<path d="M422.3,709.5 L291.5,709.5 Q289.7,709.5 289.7,711.3 L289.7,715.5 Q289.7,717 291.5,717 L422.3,717" stroke="#1a1a1a" stroke-width="1.1" fill="#fff" />
<path d="M422.3,724.4 L291.5,724.4 Q289.7,724.4 289.7,726.1999999999999 L289.7,730.2 Q289.7,731.7 291.5,731.7 L422.3,731.7" stroke="#1a1a1a" stroke-width="1.1" fill="#fff" />
<line x1="292.60" y1="686.70" x2="292.60" y2="694.60" stroke="#1a1a1a" stroke-width="1" />
<line x1="292.60" y1="702.00" x2="292.60" y2="709.50" stroke="#1a1a1a" stroke-width="1" />
<line x1="292.60" y1="717.00" x2="292.60" y2="724.40" stroke="#1a1a1a" stroke-width="1" />
<line x1="292.60" y1="686.70" x2="422.30" y2="686.70" stroke="#1a1a1a" stroke-width="1" />
<line x1="292.60" y1="694.60" x2="422.30" y2="694.60" stroke="#1a1a1a" stroke-width="1" />
<line x1="292.60" y1="702.00" x2="422.30" y2="702.00" stroke="#1a1a1a" stroke-width="1" />
<line x1="292.60" y1="709.50" x2="422.30" y2="709.50" stroke="#1a1a1a" stroke-width="1" />
<line x1="292.60" y1="717.00" x2="422.30" y2="717.00" stroke="#1a1a1a" stroke-width="1" />
<line x1="292.60" y1="724.40" x2="422.30" y2="724.40" stroke="#1a1a1a" stroke-width="1" />
<line x1="397.40" y1="686.70" x2="397.40" y2="694.60" stroke="#1a1a1a" stroke-width="1" />
<line x1="378.10" y1="694.60" x2="378.10" y2="702.00" stroke="#1a1a1a" stroke-width="1" />
<line x1="397.40" y1="702.00" x2="397.40" y2="709.50" stroke="#1a1a1a" stroke-width="1" />
<line x1="378.10" y1="709.50" x2="378.10" y2="717.00" stroke="#1a1a1a" stroke-width="1" />
<line x1="397.40" y1="717.00" x2="397.40" y2="724.40" stroke="#1a1a1a" stroke-width="1" />
<line x1="378.10" y1="724.40" x2="378.10" y2="731.70" stroke="#1a1a1a" stroke-width="1" />
<line x1="422.30" y1="679.70" x2="422.30" y2="731.70" stroke="#1a1a1a" stroke-width="1.1" />
<rect x="300.60" y="731.70" width="60.40" height="10.50" rx="0" stroke="#1a1a1a" stroke-width="1.1" fill="#fff"/>
<ellipse cx="330.6" cy="743.6" rx="4.3" ry="2.2" fill="#666" stroke="#333" stroke-width="0.8"/>
<rect x="422.30" y="680.00" width="11.00" height="52.00" rx="0" stroke="#1a1a1a" stroke-width="1.1" fill="#fff"/>
<line x1="422.30" y1="704.90" x2="433.30" y2="704.90" stroke="#1a1a1a" stroke-width="1" />
<rect x="433.30" y="669.10" width="24.50" height="74.20" rx="1.5" stroke="#1a1a1a" stroke-width="1.1" fill="#2e2e2e"/>
<line x1="434.50" y1="680.50" x2="455.00" y2="680.50" stroke="#f0f0f0" stroke-width="1.2" />
<line x1="434.50" y1="683.30" x2="455.00" y2="683.30" stroke="#c0c0c0" stroke-width="1.2" />
<line x1="434.50" y1="686.00" x2="455.00" y2="686.00" stroke="#999" stroke-width="1.2" />
<line x1="434.50" y1="688.90" x2="455.00" y2="688.90" stroke="#f0f0f0" stroke-width="1.2" />
<line x1="434.50" y1="692.30" x2="455.00" y2="692.30" stroke="#c0c0c0" stroke-width="1.2" />
<line x1="434.50" y1="695.00" x2="455.00" y2="695.00" stroke="#999" stroke-width="1.2" />
<line x1="434.50" y1="697.60" x2="455.00" y2="697.60" stroke="#f0f0f0" stroke-width="1.2" />
<line x1="434.50" y1="700.50" x2="455.00" y2="700.50" stroke="#c0c0c0" stroke-width="1.2" />
<line x1="434.50" y1="703.00" x2="455.00" y2="703.00" stroke="#999" stroke-width="1.2" />
<line x1="434.50" y1="705.70" x2="455.00" y2="705.70" stroke="#f0f0f0" stroke-width="1.2" />
<line x1="434.50" y1="709.00" x2="455.00" y2="709.00" stroke="#c0c0c0" stroke-width="1.2" />
<line x1="434.50" y1="711.80" x2="455.00" y2="711.80" stroke="#999" stroke-width="1.2" />
<line x1="434.50" y1="714.60" x2="455.00" y2="714.60" stroke="#f0f0f0" stroke-width="1.2" />
<line x1="434.50" y1="717.50" x2="455.00" y2="717.50" stroke="#c0c0c0" stroke-width="1.2" />
<line x1="434.50" y1="720.60" x2="455.00" y2="720.60" stroke="#999" stroke-width="1.2" />
<line x1="434.50" y1="723.30" x2="455.00" y2="723.30" stroke="#f0f0f0" stroke-width="1.2" />
<line x1="434.50" y1="726.20" x2="455.00" y2="726.20" stroke="#c0c0c0" stroke-width="1.2" />
<line x1="434.50" y1="729.30" x2="455.00" y2="729.30" stroke="#999" stroke-width="1.2" />
<line x1="434.50" y1="732.50" x2="455.00" y2="732.50" stroke="#f0f0f0" stroke-width="1.2" />
<line x1="434.50" y1="735.50" x2="455.00" y2="735.50" stroke="#c0c0c0" stroke-width="1.2" />
<rect x="455.00" y="670.00" width="2.80" height="72.50" rx="0" stroke="none" fill="#1a1a1a"/>
<rect x="458.80" y="675.20" width="9.40" height="63.20" rx="2" stroke="#1a1a1a" stroke-width="1.1" fill="#fff"/>
<line x1="461.00" y1="676.00" x2="461.00" y2="737.60" stroke="#1a1a1a" stroke-width="0.8" />
<path d="M468.2,677.5 L512,677.5 Q517.3,677.5 517.3,683 L517.3,727 Q517.3,734.7 510,734.7 L468.2,734.7 Z" stroke="#1a1a1a" stroke-width="1.2" fill="#fff" />
<path d="M511.5,678.2 Q515.8,679 516.3,682.5" stroke="#1a1a1a" stroke-width="0.8" fill="none" />
<path d="M470.9,677 L470.9,648.5 Q470.9,645.6 473.9,645.6 L514.5,645.6 Q517.5,645.6 517.5,648.5 L517.5,677" stroke="#1a1a1a" stroke-width="1.1" fill="#fff" />
<rect x="473.60" y="642.90" width="39.00" height="2.70" rx="0" stroke="#1a1a1a" stroke-width="1" fill="#fff"/>
<rect x="470.90" y="632.10" width="47.10" height="10.80" rx="2" stroke="#1a1a1a" stroke-width="1.1" fill="#fff"/>
<line x1="473.50" y1="632.80" x2="473.50" y2="642.20" stroke="#1a1a1a" stroke-width="0.9" />
<line x1="476.70" y1="632.80" x2="476.70" y2="642.20" stroke="#1a1a1a" stroke-width="0.9" />
<line x1="479.90" y1="632.80" x2="479.90" y2="642.20" stroke="#1a1a1a" stroke-width="0.9" />
<line x1="483.10" y1="632.80" x2="483.10" y2="642.20" stroke="#1a1a1a" stroke-width="0.9" />
<line x1="486.30" y1="632.80" x2="486.30" y2="642.20" stroke="#1a1a1a" stroke-width="0.9" />
<line x1="489.50" y1="632.80" x2="489.50" y2="642.20" stroke="#1a1a1a" stroke-width="0.9" />
<line x1="492.70" y1="632.80" x2="492.70" y2="642.20" stroke="#1a1a1a" stroke-width="0.9" />
<line x1="495.90" y1="632.80" x2="495.90" y2="642.20" stroke="#1a1a1a" stroke-width="0.9" />
<line x1="499.10" y1="632.80" x2="499.10" y2="642.20" stroke="#1a1a1a" stroke-width="0.9" />
<line x1="502.30" y1="632.80" x2="502.30" y2="642.20" stroke="#1a1a1a" stroke-width="0.9" />
<line x1="505.50" y1="632.80" x2="505.50" y2="642.20" stroke="#1a1a1a" stroke-width="0.9" />
<line x1="508.70" y1="632.80" x2="508.70" y2="642.20" stroke="#1a1a1a" stroke-width="0.9" />
<line x1="511.90" y1="632.80" x2="511.90" y2="642.20" stroke="#1a1a1a" stroke-width="0.9" />
<line x1="515.10" y1="632.80" x2="515.10" y2="642.20" stroke="#1a1a1a" stroke-width="0.9" />
<line x1="519.00" y1="632.10" x2="544.00" y2="632.10" stroke="#1a1a1a" stroke-width="1" />
<line x1="459.00" y1="742.40" x2="546.30" y2="742.40" stroke="#1a1a1a" stroke-width="1" />
<line x1="539.00" y1="634.00" x2="539.00" y2="740.50" stroke="#1a1a1a" stroke-width="1" />
<path d="M539.00,632.60 L540.30,640.60 L537.70,640.60 Z" stroke="#1a1a1a" stroke-width="0.5" fill="#1a1a1a" />
<path d="M539.00,741.90 L537.70,733.90 L540.30,733.90 Z" stroke="#1a1a1a" stroke-width="0.5" fill="#1a1a1a" />
<text x="0" y="0" font-size="12.5" fill="#1a1a1a" stroke="none" text-anchor="middle" transform="translate(536.20,686.00) rotate(-90)" textLength="38" lengthAdjust="spacingAndGlyphs">52(2.03)</text>
<path d="M330.3,668 L330.3,766" stroke="#1a1a1a" stroke-width="0.9" fill="none" stroke-dasharray="6,2,1.2,2"/>
<line x1="268.80" y1="667.00" x2="268.80" y2="731.30" stroke="#1a1a1a" stroke-width="1" />
<path d="M268.80,665.60 L270.10,673.60 L267.50,673.60 Z" stroke="#1a1a1a" stroke-width="0.5" fill="#1a1a1a" />
<circle cx="268.80" cy="731.30" r="2.40" stroke="#1a1a1a" stroke-width="0.5" fill="#1a1a1a"/>
<line x1="264.90" y1="731.30" x2="289.70" y2="731.30" stroke="#1a1a1a" stroke-width="1" />
<line x1="262.90" y1="742.20" x2="300.60" y2="742.20" stroke="#1a1a1a" stroke-width="1" />
<line x1="268.80" y1="731.00" x2="268.80" y2="774.00" stroke="#1a1a1a" stroke-width="1" />
<path d="M268.80,742.80 L270.40,751.80 L267.20,751.80 Z" stroke="#1a1a1a" stroke-width="0.5" fill="#1a1a1a" />
<text x="0" y="0" font-size="12" fill="#1a1a1a" stroke="none" text-anchor="middle" transform="translate(264.40,697.60) rotate(-90)" textLength="37.6" lengthAdjust="spacingAndGlyphs">32(1.24)</text>
<text x="0" y="0" font-size="12" fill="#1a1a1a" stroke="none" text-anchor="middle" transform="translate(263.20,760.50) rotate(-90)" textLength="31" lengthAdjust="spacingAndGlyphs">5(0.20)</text>
<line x1="289.70" y1="732.00" x2="289.70" y2="765.30" stroke="#1a1a1a" stroke-width="1" />
<line x1="290.70" y1="761.80" x2="329.30" y2="761.80" stroke="#1a1a1a" stroke-width="1" />
<path d="M289.90,761.80 L297.90,760.50 L297.90,763.10 Z" stroke="#1a1a1a" stroke-width="0.5" fill="#1a1a1a" />
<path d="M330.10,761.80 L322.10,763.10 L322.10,760.50 Z" stroke="#1a1a1a" stroke-width="0.5" fill="#1a1a1a" />
<text x="0" y="0" font-size="12" fill="#1a1a1a" stroke="none" text-anchor="middle" transform="translate(310.00,759.30) rotate(0)" textLength="36.7" lengthAdjust="spacingAndGlyphs">20(0.79)</text>
<path d="M332.6,747.6 L341.1,762.4 L360.4,762.4" stroke="#1a1a1a" stroke-width="1" fill="none" />
<path d="M331.60,745.00 L335.27,749.87 L333.30,750.86 Z" stroke="#1a1a1a" stroke-width="0.5" fill="#1a1a1a" />
<text x="0" y="0" font-size="11.5" fill="#1a1a1a" stroke="none" text-anchor="middle" transform="translate(350.20,759.20) rotate(0)" textLength="14" lengthAdjust="spacingAndGlyphs">M3</text>
<rect x="604.50" y="632.70" width="41.30" height="9.30" rx="1.5" stroke="#1a1a1a" stroke-width="1.1" fill="none"/>
<line x1="610.40" y1="633.20" x2="610.40" y2="641.50" stroke="#1a1a1a" stroke-width="1" />
<line x1="619.60" y1="633.20" x2="619.60" y2="641.50" stroke="#1a1a1a" stroke-width="1" />
<line x1="625.30" y1="633.20" x2="625.30" y2="641.50" stroke="#1a1a1a" stroke-width="1" />
<line x1="631.00" y1="633.20" x2="631.00" y2="641.50" stroke="#1a1a1a" stroke-width="1" />
<line x1="640.00" y1="633.20" x2="640.00" y2="641.50" stroke="#1a1a1a" stroke-width="1" />
<rect x="607.30" y="642.00" width="36.40" height="3.50" rx="0" stroke="#1a1a1a" stroke-width="1" fill="none"/>
<path d="M602.6,676 L602.6,648.5 Q602.6,645.5 605.6,645.5 L645.7,645.5 Q648.7,645.5 648.7,648.5 L648.7,676" stroke="#1a1a1a" stroke-width="1.1" fill="#fff" />
<path d="M602.6,664.2 L584.8,664.2 Q582.5,664.5 583,666.5 L585.5,673.8 L594.8,673.8" stroke="#1a1a1a" stroke-width="1.1" fill="none" />
<path d="M648.7,664.2 L665.8,664.2 Q668,664.5 667.5,666.5 L665,673.8 L657.2,673.8" stroke="#1a1a1a" stroke-width="1.1" fill="none" />
<line x1="585.50" y1="676.50" x2="594.80" y2="676.50" stroke="#1a1a1a" stroke-width="1" />
<line x1="657.20" y1="676.50" x2="665.00" y2="676.50" stroke="#1a1a1a" stroke-width="1" />
<rect x="584.60" y="679.50" width="10.20" height="7.10" rx="0" stroke="#1a1a1a" stroke-width="1.1" fill="#fff"/>
<rect x="656.40" y="679.50" width="10.00" height="7.10" rx="0" stroke="#1a1a1a" stroke-width="1.1" fill="#fff"/>
<rect x="584.60" y="694.40" width="10.20" height="7.00" rx="0" stroke="#1a1a1a" stroke-width="1.1" fill="#fff"/>
<rect x="656.40" y="694.40" width="10.00" height="7.00" rx="0" stroke="#1a1a1a" stroke-width="1.1" fill="#fff"/>
<rect x="584.60" y="709.20" width="10.20" height="7.10" rx="0" stroke="#1a1a1a" stroke-width="1.1" fill="#fff"/>
<rect x="656.40" y="709.20" width="10.00" height="7.10" rx="0" stroke="#1a1a1a" stroke-width="1.1" fill="#fff"/>
<rect x="584.60" y="724.10" width="10.20" height="7.10" rx="0" stroke="#1a1a1a" stroke-width="1.1" fill="#fff"/>
<rect x="656.40" y="724.10" width="10.00" height="7.10" rx="0" stroke="#1a1a1a" stroke-width="1.1" fill="#fff"/>
<line x1="588.50" y1="676.50" x2="588.50" y2="731.20" stroke="#1a1a1a" stroke-width="0.9" />
<line x1="662.50" y1="676.50" x2="662.50" y2="731.20" stroke="#1a1a1a" stroke-width="0.9" />
<path d="M592.90,725.94 L593.56,724.32 L591.83,724.10 L592.57,722.52 L590.85,722.21 L591.68,720.67 L589.98,720.26 L590.90,718.77 L589.22,718.26 L590.22,716.83 L588.58,716.23 L589.66,714.85 L588.05,714.16 L589.20,712.85 L587.63,712.07 L588.86,710.82 L587.34,709.96 L588.63,708.78 L587.16,707.83 L588.51,706.73 L587.10,705.70 L588.51,704.67 L587.16,703.57 L588.63,702.62 L587.34,701.44 L588.86,700.58 L587.63,699.33 L589.20,698.55 L588.05,697.24 L589.66,696.55 L588.58,695.17 L590.22,694.57 L589.22,693.14 L590.90,692.63 L589.98,691.14 L591.68,690.73 L590.85,689.19 L592.57,688.88 L591.83,687.30 L593.56,687.08 L592.90,685.46" stroke="#333" stroke-width="0.8" fill="none" />
<path d="M657.70,685.46 L657.04,687.08 L658.77,687.30 L658.03,688.88 L659.75,689.19 L658.92,690.73 L660.62,691.14 L659.70,692.63 L661.38,693.14 L660.38,694.57 L662.02,695.17 L660.94,696.55 L662.55,697.24 L661.40,698.55 L662.97,699.33 L661.74,700.58 L663.26,701.44 L661.97,702.62 L663.44,703.57 L662.09,704.67 L663.50,705.70 L662.09,706.73 L663.44,707.83 L661.97,708.78 L663.26,709.96 L661.74,710.82 L662.97,712.07 L661.40,712.85 L662.55,714.16 L660.94,714.85 L662.02,716.23 L660.38,716.83 L661.38,718.26 L659.70,718.77 L660.62,720.26 L658.92,720.67 L659.75,722.21 L658.03,722.52 L658.77,724.10 L657.04,724.32 L657.70,725.94" stroke="#333" stroke-width="0.8" fill="none" />
<path d="M644.41,735.94 L642.90,735.14 L642.63,736.83 L641.16,735.96 L640.81,737.63 L639.38,736.69 L638.95,738.34 L637.57,737.33 L637.06,738.96 L635.74,737.89 L635.15,739.49 L633.87,738.35 L633.21,739.92 L631.99,738.73 L631.25,740.26 L630.09,739.01 L629.27,740.51 L628.18,739.19 L627.29,740.65 L626.26,739.29 L625.30,740.70 L624.34,739.29 L623.31,740.65 L622.42,739.19 L621.33,740.51 L620.51,739.01 L619.35,740.26 L618.61,738.73 L617.39,739.92 L616.73,738.35 L615.45,739.49 L614.86,737.89 L613.54,738.96 L613.03,737.33 L611.65,738.34 L611.22,736.69 L609.79,737.63 L609.44,735.96 L607.97,736.83 L607.70,735.14 L606.19,735.94" stroke="#333" stroke-width="0.8" fill="none" />
<rect x="594.80" y="676.00" width="62.40" height="59.40" rx="4" stroke="#1a1a1a" stroke-width="1.2" fill="#fff"/>
<rect x="596.40" y="677.60" width="59.20" height="56.20" rx="3" stroke="#1a1a1a" stroke-width="0.9" fill="none"/>
<rect x="594.80" y="735.40" width="62.40" height="7.10" rx="0" stroke="#1a1a1a" stroke-width="1.1" fill="#fff"/>
<path d="M608,735.4 Q625.3,742 643,735.4" stroke="#1a1a1a" stroke-width="0.8" fill="none" />
<path d="M621.5,743 Q625.3,746.5 629,743 Z" stroke="#1a1a1a" stroke-width="1" fill="#777" />
<circle cx="625.30" cy="688.70" r="2.50" stroke="#1a1a1a" stroke-width="0.9" fill="none"/>
<line x1="623.60" y1="687.00" x2="627.00" y2="690.40" stroke="#1a1a1a" stroke-width="0.7" />
<line x1="627.00" y1="687.00" x2="623.60" y2="690.40" stroke="#1a1a1a" stroke-width="0.7" />
<circle cx="625.30" cy="705.70" r="7.80" stroke="#1a1a1a" stroke-width="1.2" fill="none"/>
<circle cx="625.30" cy="705.70" r="5.70" stroke="#1a1a1a" stroke-width="1" fill="none"/>
<line x1="622.00" y1="705.70" x2="628.60" y2="705.70" stroke="#1a1a1a" stroke-width="1.6" />
<line x1="625.30" y1="702.40" x2="625.30" y2="709.00" stroke="#1a1a1a" stroke-width="1.6" />
<path d="M290.5,785.2 L402,785.2 M290.5,869.6 L402,869.6" stroke="#444" stroke-width="1.2" fill="none" />
<path d="M290.5,785.2 Q286.5,785.2 286.5,789.2 L286.5,865.6 Q286.5,869.6 290.5,869.6" stroke="#1a1a1a" stroke-width="1.2" fill="none" />
<line x1="290.50" y1="788.60" x2="397.70" y2="788.60" stroke="#1a1a1a" stroke-width="1" />
<line x1="290.50" y1="867.10" x2="397.70" y2="867.10" stroke="#1a1a1a" stroke-width="1.1" />
<path d="M397.7,788.6 A5,5.2 0 0 1 407.6,792.2 M399.6,789.4 A3.3,3.4 0 0 1 405.8,791.4" stroke="#1a1a1a" stroke-width="1.1" fill="none" />
<path d="M397.7,866.2 A5,5.2 0 0 0 407.6,862.6 M399.6,865.4 A3.3,3.4 0 0 0 405.8,863.4" stroke="#1a1a1a" stroke-width="1.1" fill="none" />
<line x1="397.70" y1="788.80" x2="421.40" y2="800.10" stroke="#1a1a1a" stroke-width="1.1" />
<line x1="397.70" y1="866.00" x2="421.40" y2="853.60" stroke="#1a1a1a" stroke-width="1.1" />
<rect x="300.50" y="796.50" width="61.40" height="60.60" rx="2" stroke="#1a1a1a" stroke-width="1.2" fill="none"/>
<circle cx="330.90" cy="826.70" r="22.90" stroke="#1a1a1a" stroke-width="1.2" fill="none"/>
<path d="M320.40,815.30 L327.70,815.30 L328.70,818.80 L333.10,818.80 L334.10,815.30 L341.40,815.30 L341.70,823.60 L338.40,824.60 L338.40,829.00 L341.70,830.00 L341.40,838.30 L334.10,838.30 L333.10,834.80 L328.70,834.80 L327.70,838.30 L320.40,838.30 L320.10,830.00 L323.40,829.00 L323.40,824.60 L320.10,823.60 Z" stroke="#1a1a1a" stroke-width="1.2" fill="none" stroke-linejoin="round"/>
<circle cx="330.90" cy="826.80" r="1.80" stroke="#1a1a1a" stroke-width="0.8" fill="none"/>
<path d="M326,807.8 Q325,811 327.5,811.5 Q330.9,810.5 334.3,811.5 Q336.8,811 335.8,807.8 Q330.9,806.5 326,807.8 Z" stroke="#1a1a1a" stroke-width="1.1" fill="none" />
<path d="M326,845.8 Q325,842.6 327.5,842.1 Q330.9,843.1 334.3,842.1 Q336.8,842.6 335.8,845.8 Q330.9,847.1 326,845.8 Z" stroke="#1a1a1a" stroke-width="1.1" fill="none" />
<rect x="311.80" y="820.00" width="2.50" height="14.00" rx="0.8" stroke="#1a1a1a" stroke-width="1" fill="none"/>
<rect x="347.50" y="820.00" width="2.50" height="14.00" rx="0.8" stroke="#1a1a1a" stroke-width="1" fill="none"/>
<path d="M283.8,826.9 L523,826.9" stroke="#1a1a1a" stroke-width="0.9" fill="none" stroke-dasharray="10,2.5,1.5,2.5"/>
<rect x="421.40" y="797.30" width="12.20" height="59.50" rx="0" stroke="#1a1a1a" stroke-width="1.1" fill="#fff"/>
<line x1="421.40" y1="812.20" x2="433.60" y2="812.20" stroke="#1a1a1a" stroke-width="1" />
<line x1="421.40" y1="841.90" x2="433.60" y2="841.90" stroke="#1a1a1a" stroke-width="1" />
<rect x="433.60" y="789.40" width="24.80" height="74.80" rx="2.5" stroke="#1a1a1a" stroke-width="1.2" fill="#3a3a3a"/>
<line x1="435.00" y1="798.00" x2="456.50" y2="798.00" stroke="#f0f0f0" stroke-width="1.2" />
<line x1="435.00" y1="801.50" x2="456.50" y2="801.50" stroke="#a8a8a8" stroke-width="1.2" />
<line x1="435.00" y1="805.00" x2="456.50" y2="805.00" stroke="#f0f0f0" stroke-width="1.2" />
<line x1="435.00" y1="808.50" x2="456.50" y2="808.50" stroke="#a8a8a8" stroke-width="1.2" />
<line x1="435.00" y1="812.00" x2="456.50" y2="812.00" stroke="#f0f0f0" stroke-width="1.2" />
<line x1="435.00" y1="815.50" x2="456.50" y2="815.50" stroke="#a8a8a8" stroke-width="1.2" />
<line x1="435.00" y1="819.00" x2="456.50" y2="819.00" stroke="#f0f0f0" stroke-width="1.2" />
<line x1="435.00" y1="822.50" x2="456.50" y2="822.50" stroke="#a8a8a8" stroke-width="1.2" />
<line x1="435.00" y1="826.00" x2="456.50" y2="826.00" stroke="#f0f0f0" stroke-width="1.2" />
<line x1="435.00" y1="829.50" x2="456.50" y2="829.50" stroke="#a8a8a8" stroke-width="1.2" />
<line x1="435.00" y1="833.00" x2="456.50" y2="833.00" stroke="#f0f0f0" stroke-width="1.2" />
<line x1="435.00" y1="836.50" x2="456.50" y2="836.50" stroke="#a8a8a8" stroke-width="1.2" />
<line x1="435.00" y1="840.00" x2="456.50" y2="840.00" stroke="#f0f0f0" stroke-width="1.2" />
<line x1="435.00" y1="843.50" x2="456.50" y2="843.50" stroke="#a8a8a8" stroke-width="1.2" />
<line x1="435.00" y1="847.00" x2="456.50" y2="847.00" stroke="#f0f0f0" stroke-width="1.2" />
<line x1="435.00" y1="850.50" x2="456.50" y2="850.50" stroke="#a8a8a8" stroke-width="1.2" />
<line x1="435.00" y1="854.00" x2="456.50" y2="854.00" stroke="#f0f0f0" stroke-width="1.2" />
<rect x="458.40" y="795.80" width="8.50" height="62.50" rx="1.5" stroke="#1a1a1a" stroke-width="1.1" fill="#fff"/>
<path d="M466.9,798 L509,798 Q517.5,798 517.5,806.5 L517.5,847.2 Q517.5,855.7 509,855.7 L466.9,855.7 Z" stroke="#1a1a1a" stroke-width="1.2" fill="#fff" />
<line x1="459.50" y1="826.90" x2="523.00" y2="826.90" stroke="#1a1a1a" stroke-width="0.9" stroke-dasharray="10,2.5,1.5,2.5"/>
<line x1="248.80" y1="784.90" x2="286.00" y2="784.90" stroke="#1a1a1a" stroke-width="1" />
<line x1="248.80" y1="869.70" x2="286.00" y2="869.70" stroke="#1a1a1a" stroke-width="1" />
<line x1="252.90" y1="787.00" x2="252.90" y2="868.00" stroke="#1a1a1a" stroke-width="1" />
<path d="M252.90,785.40 L254.20,793.40 L251.60,793.40 Z" stroke="#1a1a1a" stroke-width="0.5" fill="#1a1a1a" />
<path d="M252.90,869.20 L251.60,861.20 L254.20,861.20 Z" stroke="#1a1a1a" stroke-width="0.5" fill="#1a1a1a" />
<text x="0" y="0" font-size="12" fill="#1a1a1a" stroke="none" text-anchor="middle" transform="translate(247.60,826.00) rotate(-90)" textLength="40.5" lengthAdjust="spacingAndGlyphs">40 (1.57)</text>
<line x1="268.50" y1="806.80" x2="318.00" y2="806.80" stroke="#1a1a1a" stroke-width="1" />
<line x1="265.00" y1="846.30" x2="318.00" y2="846.30" stroke="#1a1a1a" stroke-width="1" />
<line x1="271.70" y1="808.50" x2="271.70" y2="844.80" stroke="#1a1a1a" stroke-width="1" />
<path d="M271.70,807.30 L273.00,815.30 L270.40,815.30 Z" stroke="#1a1a1a" stroke-width="0.5" fill="#1a1a1a" />
<path d="M271.70,845.80 L270.40,837.80 L273.00,837.80 Z" stroke="#1a1a1a" stroke-width="0.5" fill="#1a1a1a" />
<text x="0" y="0" font-size="12" fill="#1a1a1a" stroke="none" text-anchor="middle" transform="translate(268.20,824.60) rotate(-90)" textLength="36" lengthAdjust="spacingAndGlyphs">18 0.71)</text>
<line x1="311.60" y1="820.70" x2="311.60" y2="888.60" stroke="#1a1a1a" stroke-width="1" />
<line x1="350.60" y1="820.70" x2="350.60" y2="888.60" stroke="#1a1a1a" stroke-width="1" />
<line x1="313.00" y1="885.50" x2="349.50" y2="885.50" stroke="#1a1a1a" stroke-width="1" />
<path d="M312.10,885.50 L320.10,884.20 L320.10,886.80 Z" stroke="#1a1a1a" stroke-width="0.5" fill="#1a1a1a" />
<path d="M350.10,885.50 L342.10,886.80 L342.10,884.20 Z" stroke="#1a1a1a" stroke-width="0.5" fill="#1a1a1a" />
<text x="0" y="0" font-size="12" fill="#1a1a1a" stroke="none" text-anchor="middle" transform="translate(331.40,882.60) rotate(0)" textLength="36" lengthAdjust="spacingAndGlyphs">18(0.71)</text>
</g>
<g id="logo" stroke="none">
<rect x="661" y="1068" width="11.8" height="5.6" fill="#e8202a"/>
<rect x="634" y="1073.9" width="12.2" height="5.6" fill="#2aa8e6"/>
<text x="634.6" y="1073.4" font-weight="bold" font-size="6.6" fill="#222" stroke="#222" stroke-width="0.3" letter-spacing="1.45">ARGO</text>
<text x="647.2" y="1079.5" font-weight="bold" font-size="6.6" fill="#222" stroke="#222" stroke-width="0.3" letter-spacing="0.75">HYTOS</text>
</g>

</svg>
<div class="abs" style="left:689.3px;top:1068px;font-size:12.2px;line-height:13px;">5</div>
</body></html>
